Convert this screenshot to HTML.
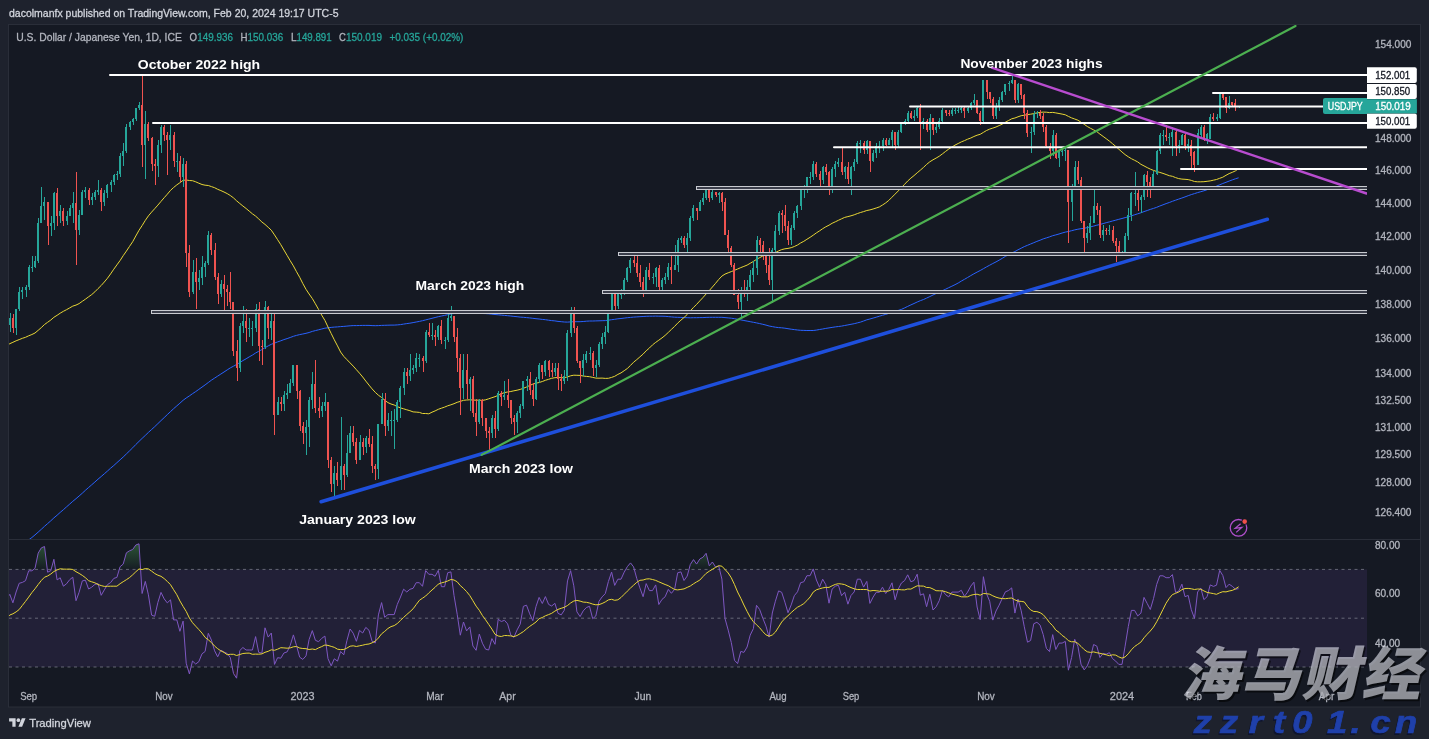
<!DOCTYPE html>
<html><head><meta charset="utf-8"><style>
html,body{margin:0;padding:0;}
body{width:1429px;height:739px;overflow:hidden;background:#1e222d;position:relative;}
</style></head><body>
<svg width="1429" height="739" viewBox="0 0 1429 739" style="position:absolute;left:0;top:0;will-change:transform" font-family='"Liberation Sans","DejaVu Sans",sans-serif'><defs><clipPath id="cm"><rect x="9" y="25" width="1358" height="514"/></clipPath><clipPath id="cr"><rect x="9" y="540" width="1358" height="143"/></clipPath></defs><rect x="0" y="0" width="1429" height="739" fill="#1e222d"/><rect x="8.5" y="24.5" width="1412" height="682.5" fill="#151923" stroke="#2a2e39" stroke-width="1"/><text x="9" y="17" font-size="11" fill="#d1d4dc" font-weight="normal" stroke="#d1d4dc" stroke-width="0.3" textLength="329.5" lengthAdjust="spacingAndGlyphs">dacolmanfx published on TradingView.com, Feb 20, 2024 19:17 UTC-5</text><rect x="9" y="539" width="1411" height="1" fill="#2a2e39"/><g clip-path="url(#cm)"><polyline points="6.6,555.5 9.8,553.3 12.9,551.3 16.1,549.2 19.2,546.9 22.4,544.6 25.5,542.3 28.7,539.9 31.9,537.5 35.0,534.9 38.2,532.1 41.3,529.3 44.5,526.3 47.6,523.6 50.8,520.8 53.9,517.9 57.1,515.2 60.2,512.4 63.4,509.7 66.5,506.9 69.7,504.1 72.8,501.3 76.0,498.7 79.1,496.0 82.3,493.2 85.4,490.3 88.6,487.5 91.7,484.8 94.9,482.0 98.0,479.2 101.2,476.5 104.3,473.8 107.5,471.0 110.6,468.2 113.8,465.5 116.9,462.7 120.1,459.8 123.2,457.0 126.4,453.9 129.5,450.9 132.7,447.8 135.8,444.5 139.0,441.4 142.1,438.4 145.3,435.4 148.4,432.4 151.6,429.5 154.7,426.7 157.9,423.6 161.0,420.6 164.2,417.6 167.3,414.6 170.5,411.6 173.6,408.7 176.8,405.9 179.9,403.2 183.1,400.3 186.2,398.0 189.4,395.9 192.5,393.7 195.7,391.6 198.8,389.4 202.0,387.1 205.1,384.9 208.3,382.5 211.4,380.2 214.6,378.1 217.7,376.1 220.9,374.0 224.0,372.0 227.2,369.9 230.3,367.9 233.5,366.2 236.6,364.5 239.8,362.6 242.9,360.6 246.1,358.8 249.2,356.9 252.4,355.1 255.6,353.0 258.7,351.3 261.9,349.6 265.0,347.7 268.2,345.9 271.3,344.3 274.5,343.1 277.6,341.9 280.8,340.8 283.9,339.6 287.1,338.6 290.2,337.5 293.4,336.3 296.5,335.4 299.7,334.6 302.8,334.0 306.0,333.3 309.1,332.5 312.3,331.4 315.4,330.6 318.6,329.8 321.7,329.0 324.9,328.2 328.0,327.8 331.2,327.4 334.3,327.1 337.5,326.9 340.6,326.6 343.8,326.4 346.9,326.1 350.1,325.8 353.2,325.6 356.4,325.6 359.5,325.5 362.7,325.4 365.8,325.4 369.0,325.4 372.1,325.6 375.3,325.7 378.4,325.6 381.6,325.4 384.7,325.3 387.9,325.2 391.0,325.1 394.2,325.1 397.3,324.9 400.5,324.6 403.6,324.1 406.8,323.6 409.9,323.2 413.1,322.6 416.2,322.0 419.4,321.4 422.5,320.7 425.7,319.9 428.8,319.1 432.0,318.3 435.1,317.5 438.3,316.7 441.4,316.0 444.6,315.4 447.7,314.7 450.9,314.0 454.0,313.5 457.2,313.2 460.3,313.1 463.5,313.1 466.6,313.1 469.8,313.1 472.9,313.2 476.1,313.4 479.3,313.4 482.4,313.5 485.6,313.6 488.7,313.8 491.9,314.2 495.0,314.5 498.2,314.8 501.3,315.1 504.5,315.4 507.6,315.7 510.8,316.0 513.9,316.4 517.1,316.7 520.2,317.1 523.4,317.3 526.5,317.6 529.7,317.9 532.8,318.3 536.0,318.7 539.1,319.0 542.3,319.4 545.4,319.7 548.6,320.2 551.7,320.6 554.9,320.9 558.0,321.4 561.2,321.7 564.3,322.0 567.5,322.1 570.6,321.9 573.8,321.7 576.9,321.7 580.1,321.7 583.2,321.5 586.4,321.2 589.5,321.0 592.7,321.0 595.8,320.9 599.0,320.8 602.1,320.7 605.3,320.6 608.4,320.2 611.6,319.7 614.7,319.3 617.9,318.8 621.0,318.5 624.2,318.1 627.3,317.7 630.5,317.4 633.6,317.1 636.8,316.9 639.9,316.7 643.1,316.5 646.2,316.3 649.4,316.2 652.5,316.2 655.7,316.1 658.8,316.2 662.0,316.2 665.1,316.3 668.3,316.6 671.4,316.9 674.6,317.2 677.7,317.3 680.9,317.4 684.0,317.6 687.2,317.7 690.3,317.8 693.5,317.7 696.6,317.7 699.8,317.6 702.9,317.6 706.1,317.4 709.3,317.3 712.4,317.3 715.6,317.3 718.7,317.3 721.9,317.3 725.0,317.6 728.2,317.9 731.3,318.2 734.5,318.7 737.6,319.3 740.8,319.9 743.9,320.5 747.1,321.1 750.2,321.7 753.4,322.3 756.5,322.9 759.7,323.6 762.8,324.3 766.0,325.1 769.1,326.0 772.3,326.6 775.4,327.2 778.6,327.6 781.7,327.8 784.9,328.2 788.0,328.7 791.2,329.2 794.3,329.6 797.5,330.0 800.6,330.3 803.8,330.4 806.9,330.5 810.1,330.5 813.2,330.5 816.4,330.1 819.5,329.5 822.7,329.0 825.8,328.4 829.0,327.9 832.1,327.4 835.3,326.9 838.4,326.5 841.6,326.1 844.7,325.5 847.9,324.9 851.0,324.3 854.2,323.7 857.3,322.9 860.5,322.1 863.6,321.0 866.8,319.8 869.9,319.0 873.1,318.1 876.2,317.2 879.4,316.2 882.5,315.3 885.7,314.4 888.8,313.4 892.0,312.2 895.1,311.4 898.3,310.4 901.4,309.4 904.6,307.9 907.7,306.4 910.9,304.9 914.0,303.5 917.2,302.0 920.3,300.7 923.5,299.5 926.6,298.1 929.8,296.6 933.0,295.0 936.1,293.5 939.3,292.1 942.4,290.7 945.6,289.2 948.7,287.7 951.9,286.2 955.0,284.7 958.2,283.0 961.3,281.1 964.5,279.3 967.6,277.5 970.8,275.6 973.9,273.8 977.1,272.1 980.2,270.5 983.4,268.7 986.5,266.9 989.7,265.2 992.8,263.5 996.0,261.9 999.1,260.2 1002.3,258.3 1005.4,256.4 1008.6,254.7 1011.7,253.1 1014.9,251.5 1018.0,249.8 1021.2,248.2 1024.3,246.6 1027.5,245.3 1030.6,244.0 1033.8,242.7 1036.9,241.4 1040.1,240.2 1043.2,238.9 1046.4,237.9 1049.5,236.9 1052.7,235.7 1055.8,234.9 1059.0,234.0 1062.1,233.0 1065.3,232.1 1068.4,231.5 1071.6,230.7 1074.7,229.9 1077.9,229.2 1081.0,228.7 1084.2,228.3 1087.3,227.6 1090.5,226.9 1093.6,226.1 1096.8,225.2 1099.9,224.5 1103.1,223.6 1106.2,222.7 1109.4,221.9 1112.5,221.0 1115.7,220.2 1118.8,219.3 1122.0,218.5 1125.1,217.6 1128.3,216.8 1131.4,215.8 1134.6,214.8 1137.7,213.8 1140.9,212.8 1144.0,211.6 1147.2,210.5 1150.3,209.4 1153.5,208.4 1156.7,207.3 1159.8,206.0 1163.0,204.8 1166.1,203.6 1169.3,202.5 1172.4,201.3 1175.6,200.2 1178.7,199.1 1181.9,198.0 1185.0,196.9 1188.2,195.7 1191.3,194.6 1194.5,193.6 1197.6,192.6 1200.8,191.7 1203.9,190.8 1207.1,189.7 1210.2,188.5 1213.4,187.3 1216.5,186.1 1219.7,184.8 1222.8,183.5 1226.0,182.3 1229.1,181.1 1232.3,179.9 1235.4,178.8 1238.6,177.8" fill="none" stroke="#2962ff" stroke-width="1" stroke-opacity="1" stroke-linejoin="round"/><polyline points="6.6,345.4 9.8,343.7 12.9,342.3 16.1,340.8 19.2,339.6 22.4,338.3 25.5,337.3 28.7,335.8 31.9,334.5 35.0,333.0 38.2,330.3 41.3,327.6 44.5,324.5 47.6,322.3 50.8,320.0 53.9,317.3 57.1,315.3 60.2,313.2 63.4,311.3 66.5,309.7 69.7,307.9 72.8,306.1 76.0,305.1 79.1,303.6 82.3,301.3 85.4,299.2 88.6,296.8 91.7,294.6 94.9,291.8 98.0,288.6 101.2,285.5 104.3,282.0 107.5,278.2 110.6,273.9 113.8,269.2 116.9,264.9 120.1,260.5 123.2,255.7 126.4,251.1 129.5,246.4 132.7,241.7 135.8,236.0 139.0,230.3 142.1,225.6 145.3,220.4 148.4,215.9 151.6,212.1 154.7,208.7 157.9,205.1 161.0,201.4 164.2,197.7 167.3,194.2 170.5,190.4 173.6,187.5 176.8,184.9 179.9,182.7 183.1,180.3 186.2,180.0 189.4,180.5 192.5,180.7 195.7,181.8 198.8,183.2 202.0,184.5 205.1,185.2 208.3,185.5 211.4,186.6 214.6,187.7 217.7,189.3 220.9,190.6 224.0,192.0 227.2,193.6 230.3,195.5 233.5,197.9 236.6,200.8 239.8,203.5 242.9,206.0 246.1,208.5 249.2,211.1 252.4,213.8 255.6,216.1 258.7,218.9 261.9,222.0 265.0,224.4 268.2,227.3 271.3,230.2 274.5,234.9 277.6,239.7 280.8,244.7 283.9,250.0 287.1,255.4 290.2,260.7 293.4,265.9 296.5,271.7 299.7,277.3 302.8,283.5 306.0,289.3 309.1,294.0 312.3,298.5 315.4,303.8 318.6,309.5 321.7,315.1 324.9,320.4 328.0,327.0 331.2,333.5 334.3,339.8 337.5,345.9 340.6,352.0 343.8,356.4 346.9,359.6 350.1,362.9 353.2,366.1 356.4,369.7 359.5,373.2 362.7,377.0 365.8,381.1 369.0,385.1 372.1,388.9 375.3,392.4 378.4,395.2 381.6,397.5 384.7,400.2 387.9,402.6 391.0,404.0 394.2,405.0 397.3,406.6 400.5,407.9 403.6,408.8 406.8,409.8 409.9,410.7 413.1,411.9 416.2,412.1 419.4,412.4 422.5,413.5 425.7,413.5 428.8,413.8 432.0,412.2 435.1,410.9 438.3,409.3 441.4,408.2 444.6,407.1 447.7,405.8 450.9,404.8 454.0,403.7 457.2,402.3 460.3,401.4 463.5,400.3 466.6,400.0 469.8,399.8 472.9,400.0 476.1,400.2 479.3,400.1 482.4,400.4 485.6,399.8 488.7,398.8 491.9,397.7 495.0,396.7 498.2,395.3 501.3,393.8 504.5,392.6 507.6,392.0 510.8,391.5 513.9,390.8 517.1,390.2 520.2,389.4 523.4,388.3 526.5,387.0 529.7,385.5 532.8,384.1 536.0,383.2 539.1,382.5 542.3,381.5 545.4,380.3 548.6,379.3 551.7,378.3 554.9,377.7 558.0,377.5 561.2,377.7 564.3,377.7 567.5,376.9 570.6,375.8 573.8,375.2 576.9,375.3 580.1,375.4 583.2,376.0 586.4,376.4 589.5,376.7 592.7,377.4 595.8,378.1 599.0,378.2 602.1,378.1 605.3,378.4 608.4,378.3 611.6,377.4 614.7,376.3 617.9,374.4 621.0,372.9 624.2,370.7 627.3,368.5 630.5,365.4 633.6,362.2 636.8,359.6 639.9,356.9 643.1,354.1 646.2,350.8 649.4,348.0 652.5,344.9 655.7,342.4 658.8,340.2 662.0,337.9 665.1,335.4 668.3,332.4 671.4,329.4 674.6,326.4 677.7,323.1 680.9,320.2 684.0,317.5 687.2,314.5 690.3,310.9 693.5,307.4 696.6,304.4 699.8,300.9 702.9,297.6 706.1,294.0 709.3,290.5 712.4,287.0 715.6,283.3 718.7,279.5 721.9,276.1 725.0,274.1 728.2,272.8 731.3,271.6 734.5,270.3 737.6,269.0 740.8,267.6 743.9,266.4 747.1,265.1 750.2,263.3 753.4,261.4 756.5,259.4 759.7,257.6 762.8,256.0 766.0,255.1 769.1,254.9 772.3,253.8 775.4,252.5 778.6,250.9 781.7,249.6 784.9,248.8 788.0,248.4 791.2,247.7 794.3,246.5 797.5,245.0 800.6,243.0 803.8,241.3 806.9,239.3 810.1,237.3 813.2,235.2 816.4,232.9 819.5,230.9 822.7,228.7 825.8,226.8 829.0,225.2 832.1,223.3 835.3,221.8 838.4,220.3 841.6,218.8 844.7,217.4 847.9,216.6 851.0,215.8 854.2,214.8 857.3,213.6 860.5,212.5 863.6,211.6 866.8,210.5 869.9,209.9 873.1,209.0 876.2,208.0 879.4,206.9 882.5,205.0 885.7,202.9 888.8,200.4 892.0,197.2 895.1,194.1 898.3,190.9 901.4,187.6 904.6,184.3 907.7,181.0 910.9,178.1 914.0,175.6 917.2,172.8 920.3,170.2 923.5,167.4 926.6,164.4 929.8,161.8 933.0,159.8 936.1,158.1 939.3,156.2 942.4,153.9 945.6,151.4 948.7,149.1 951.9,147.1 955.0,145.1 958.2,143.5 961.3,141.9 964.5,140.6 967.6,139.2 970.8,138.0 973.9,136.5 977.1,135.2 980.2,134.3 983.4,132.4 986.5,130.5 989.7,129.1 992.8,128.1 996.0,127.0 999.1,125.6 1002.3,124.1 1005.4,122.2 1008.6,120.5 1011.7,118.8 1014.9,118.0 1018.0,116.8 1021.2,115.7 1024.3,115.2 1027.5,114.6 1030.6,114.2 1033.8,113.6 1036.9,112.9 1040.1,112.4 1043.2,112.1 1046.4,112.2 1049.5,112.6 1052.7,112.4 1055.8,112.9 1059.0,113.5 1062.1,114.1 1065.3,114.8 1068.4,116.4 1071.6,117.9 1074.7,119.0 1077.9,120.2 1081.0,122.2 1084.2,124.3 1087.3,126.5 1090.5,128.3 1093.6,129.9 1096.8,131.6 1099.9,134.1 1103.1,136.4 1106.2,138.7 1109.4,141.1 1112.5,143.7 1115.7,146.4 1118.8,149.2 1122.0,152.0 1125.1,154.6 1128.3,156.8 1131.4,158.7 1134.6,160.3 1137.7,161.9 1140.9,164.3 1144.0,165.9 1147.2,167.6 1150.3,169.1 1153.5,170.4 1156.7,171.5 1159.8,172.4 1163.0,173.4 1166.1,174.5 1169.3,175.7 1172.4,176.3 1175.6,177.6 1178.7,178.6 1181.9,179.1 1185.0,179.3 1188.2,179.6 1191.3,180.4 1194.5,181.5 1197.6,181.8 1200.8,181.8 1203.9,181.7 1207.1,181.3 1210.2,180.9 1213.4,180.2 1216.5,179.5 1219.7,178.3 1222.8,177.2 1226.0,175.3 1229.1,173.6 1232.3,172.3 1235.4,170.9 1238.6,168.5" fill="none" stroke="#e8d635" stroke-width="1" stroke-opacity="1" stroke-linejoin="round"/><g shape-rendering="crispEdges"><rect x="10" y="313" width="1" height="19" fill="#26a69a"/><rect x="9" y="318" width="2" height="7" fill="#26a69a"/><rect x="13" y="314" width="1" height="19" fill="#ef5350"/><rect x="12" y="318" width="2" height="10" fill="#ef5350"/><rect x="16" y="309" width="1" height="26" fill="#26a69a"/><rect x="15" y="309" width="2" height="19" fill="#26a69a"/><rect x="19" y="287" width="1" height="24" fill="#26a69a"/><rect x="18" y="292" width="2" height="17" fill="#26a69a"/><rect x="22" y="287" width="1" height="12" fill="#26a69a"/><rect x="21" y="290" width="2" height="2" fill="#26a69a"/><rect x="26" y="285" width="1" height="12" fill="#26a69a"/><rect x="25" y="287" width="2" height="3" fill="#26a69a"/><rect x="29" y="265" width="1" height="25" fill="#26a69a"/><rect x="28" y="267" width="2" height="20" fill="#26a69a"/><rect x="32" y="256" width="1" height="16" fill="#26a69a"/><rect x="31" y="267" width="2" height="1" fill="#26a69a"/><rect x="35" y="256" width="1" height="12" fill="#26a69a"/><rect x="34" y="261" width="2" height="6" fill="#26a69a"/><rect x="38" y="218" width="1" height="45" fill="#26a69a"/><rect x="37" y="223" width="2" height="38" fill="#26a69a"/><rect x="41" y="187" width="1" height="36" fill="#26a69a"/><rect x="40" y="206" width="2" height="17" fill="#26a69a"/><rect x="44" y="197" width="1" height="23" fill="#26a69a"/><rect x="43" y="202" width="2" height="4" fill="#26a69a"/><rect x="48" y="202" width="1" height="43" fill="#ef5350"/><rect x="47" y="202" width="2" height="24" fill="#ef5350"/><rect x="51" y="216" width="1" height="20" fill="#26a69a"/><rect x="50" y="223" width="2" height="3" fill="#26a69a"/><rect x="54" y="192" width="1" height="38" fill="#26a69a"/><rect x="53" y="193" width="2" height="30" fill="#26a69a"/><rect x="57" y="188" width="1" height="38" fill="#ef5350"/><rect x="56" y="193" width="2" height="23" fill="#ef5350"/><rect x="60" y="205" width="1" height="18" fill="#26a69a"/><rect x="59" y="211" width="2" height="5" fill="#26a69a"/><rect x="63" y="208" width="1" height="18" fill="#ef5350"/><rect x="62" y="211" width="2" height="10" fill="#ef5350"/><rect x="67" y="211" width="1" height="14" fill="#26a69a"/><rect x="66" y="216" width="2" height="5" fill="#26a69a"/><rect x="70" y="205" width="1" height="11" fill="#26a69a"/><rect x="69" y="208" width="2" height="8" fill="#26a69a"/><rect x="73" y="192" width="1" height="31" fill="#26a69a"/><rect x="72" y="203" width="2" height="5" fill="#26a69a"/><rect x="76" y="172" width="1" height="93" fill="#ef5350"/><rect x="75" y="203" width="2" height="27" fill="#ef5350"/><rect x="79" y="210" width="1" height="25" fill="#26a69a"/><rect x="78" y="215" width="2" height="15" fill="#26a69a"/><rect x="82" y="190" width="1" height="25" fill="#26a69a"/><rect x="81" y="192" width="2" height="23" fill="#26a69a"/><rect x="85" y="187" width="1" height="11" fill="#26a69a"/><rect x="84" y="190" width="2" height="2" fill="#26a69a"/><rect x="89" y="188" width="1" height="17" fill="#ef5350"/><rect x="88" y="190" width="2" height="10" fill="#ef5350"/><rect x="92" y="193" width="1" height="12" fill="#26a69a"/><rect x="91" y="197" width="2" height="3" fill="#26a69a"/><rect x="95" y="190" width="1" height="10" fill="#26a69a"/><rect x="94" y="192" width="2" height="5" fill="#26a69a"/><rect x="98" y="180" width="1" height="15" fill="#26a69a"/><rect x="97" y="190" width="2" height="2" fill="#26a69a"/><rect x="101" y="188" width="1" height="23" fill="#ef5350"/><rect x="100" y="190" width="2" height="12" fill="#ef5350"/><rect x="104" y="190" width="1" height="16" fill="#26a69a"/><rect x="103" y="193" width="2" height="9" fill="#26a69a"/><rect x="107" y="184" width="1" height="14" fill="#26a69a"/><rect x="106" y="185" width="2" height="8" fill="#26a69a"/><rect x="111" y="180" width="1" height="12" fill="#26a69a"/><rect x="110" y="182" width="2" height="3" fill="#26a69a"/><rect x="114" y="174" width="1" height="11" fill="#26a69a"/><rect x="113" y="175" width="2" height="7" fill="#26a69a"/><rect x="117" y="171" width="1" height="9" fill="#26a69a"/><rect x="116" y="174" width="2" height="1" fill="#26a69a"/><rect x="120" y="153" width="1" height="24" fill="#26a69a"/><rect x="119" y="156" width="2" height="18" fill="#26a69a"/><rect x="123" y="143" width="1" height="23" fill="#26a69a"/><rect x="122" y="151" width="2" height="5" fill="#26a69a"/><rect x="126" y="124" width="1" height="29" fill="#26a69a"/><rect x="125" y="127" width="2" height="24" fill="#26a69a"/><rect x="130" y="121" width="1" height="9" fill="#26a69a"/><rect x="129" y="122" width="2" height="5" fill="#26a69a"/><rect x="133" y="118" width="1" height="7" fill="#26a69a"/><rect x="132" y="119" width="2" height="3" fill="#26a69a"/><rect x="136" y="108" width="1" height="13" fill="#26a69a"/><rect x="135" y="108" width="2" height="11" fill="#26a69a"/><rect x="139" y="102" width="1" height="8" fill="#26a69a"/><rect x="138" y="105" width="2" height="3" fill="#26a69a"/><rect x="142" y="76" width="1" height="91" fill="#ef5350"/><rect x="141" y="105" width="2" height="40" fill="#ef5350"/><rect x="145" y="111" width="1" height="68" fill="#26a69a"/><rect x="144" y="124" width="2" height="21" fill="#26a69a"/><rect x="148" y="122" width="1" height="19" fill="#ef5350"/><rect x="147" y="124" width="2" height="14" fill="#ef5350"/><rect x="152" y="137" width="1" height="34" fill="#ef5350"/><rect x="151" y="138" width="2" height="26" fill="#ef5350"/><rect x="155" y="159" width="1" height="26" fill="#ef5350"/><rect x="154" y="164" width="2" height="2" fill="#ef5350"/><rect x="158" y="140" width="1" height="37" fill="#26a69a"/><rect x="157" y="145" width="2" height="21" fill="#26a69a"/><rect x="161" y="125" width="1" height="28" fill="#26a69a"/><rect x="160" y="127" width="2" height="18" fill="#26a69a"/><rect x="164" y="125" width="1" height="16" fill="#ef5350"/><rect x="163" y="127" width="2" height="8" fill="#ef5350"/><rect x="167" y="132" width="1" height="43" fill="#ef5350"/><rect x="166" y="135" width="2" height="5" fill="#ef5350"/><rect x="170" y="125" width="1" height="25" fill="#26a69a"/><rect x="169" y="135" width="2" height="5" fill="#26a69a"/><rect x="174" y="132" width="1" height="35" fill="#ef5350"/><rect x="173" y="135" width="2" height="26" fill="#ef5350"/><rect x="177" y="153" width="1" height="19" fill="#26a69a"/><rect x="176" y="161" width="2" height="1" fill="#26a69a"/><rect x="180" y="156" width="1" height="26" fill="#ef5350"/><rect x="179" y="161" width="2" height="16" fill="#ef5350"/><rect x="183" y="158" width="1" height="29" fill="#26a69a"/><rect x="182" y="164" width="2" height="13" fill="#26a69a"/><rect x="186" y="161" width="1" height="106" fill="#ef5350"/><rect x="185" y="164" width="2" height="89" fill="#ef5350"/><rect x="189" y="245" width="1" height="52" fill="#ef5350"/><rect x="188" y="253" width="2" height="39" fill="#ef5350"/><rect x="193" y="260" width="1" height="34" fill="#26a69a"/><rect x="192" y="272" width="2" height="20" fill="#26a69a"/><rect x="196" y="258" width="1" height="51" fill="#ef5350"/><rect x="195" y="272" width="2" height="10" fill="#ef5350"/><rect x="199" y="270" width="1" height="20" fill="#26a69a"/><rect x="198" y="278" width="2" height="4" fill="#26a69a"/><rect x="202" y="256" width="1" height="29" fill="#26a69a"/><rect x="201" y="267" width="2" height="11" fill="#26a69a"/><rect x="205" y="261" width="1" height="16" fill="#26a69a"/><rect x="204" y="263" width="2" height="4" fill="#26a69a"/><rect x="208" y="231" width="1" height="34" fill="#26a69a"/><rect x="207" y="235" width="2" height="28" fill="#26a69a"/><rect x="211" y="233" width="1" height="22" fill="#ef5350"/><rect x="210" y="235" width="2" height="15" fill="#ef5350"/><rect x="215" y="243" width="1" height="37" fill="#ef5350"/><rect x="214" y="250" width="2" height="27" fill="#ef5350"/><rect x="218" y="273" width="1" height="31" fill="#ef5350"/><rect x="217" y="277" width="2" height="17" fill="#ef5350"/><rect x="221" y="280" width="1" height="17" fill="#26a69a"/><rect x="220" y="284" width="2" height="10" fill="#26a69a"/><rect x="224" y="275" width="1" height="38" fill="#ef5350"/><rect x="223" y="284" width="2" height="5" fill="#ef5350"/><rect x="227" y="285" width="1" height="21" fill="#ef5350"/><rect x="226" y="289" width="2" height="3" fill="#ef5350"/><rect x="230" y="272" width="1" height="37" fill="#ef5350"/><rect x="229" y="292" width="2" height="10" fill="#ef5350"/><rect x="233" y="302" width="1" height="54" fill="#ef5350"/><rect x="232" y="302" width="2" height="49" fill="#ef5350"/><rect x="237" y="340" width="1" height="41" fill="#ef5350"/><rect x="236" y="351" width="2" height="17" fill="#ef5350"/><rect x="240" y="323" width="1" height="49" fill="#26a69a"/><rect x="239" y="326" width="2" height="42" fill="#26a69a"/><rect x="243" y="306" width="1" height="27" fill="#26a69a"/><rect x="242" y="321" width="2" height="5" fill="#26a69a"/><rect x="246" y="309" width="1" height="33" fill="#ef5350"/><rect x="245" y="321" width="2" height="7" fill="#ef5350"/><rect x="249" y="318" width="1" height="19" fill="#26a69a"/><rect x="248" y="328" width="2" height="1" fill="#26a69a"/><rect x="252" y="321" width="1" height="25" fill="#26a69a"/><rect x="251" y="328" width="2" height="1" fill="#26a69a"/><rect x="256" y="304" width="1" height="28" fill="#26a69a"/><rect x="255" y="309" width="2" height="19" fill="#26a69a"/><rect x="259" y="302" width="1" height="59" fill="#ef5350"/><rect x="258" y="309" width="2" height="37" fill="#ef5350"/><rect x="262" y="340" width="1" height="25" fill="#ef5350"/><rect x="261" y="346" width="2" height="1" fill="#ef5350"/><rect x="265" y="301" width="1" height="48" fill="#26a69a"/><rect x="264" y="307" width="2" height="40" fill="#26a69a"/><rect x="268" y="306" width="1" height="33" fill="#ef5350"/><rect x="267" y="307" width="2" height="21" fill="#ef5350"/><rect x="271" y="314" width="1" height="26" fill="#26a69a"/><rect x="270" y="321" width="2" height="7" fill="#26a69a"/><rect x="274" y="313" width="1" height="122" fill="#ef5350"/><rect x="273" y="321" width="2" height="94" fill="#ef5350"/><rect x="278" y="397" width="1" height="18" fill="#26a69a"/><rect x="277" y="402" width="2" height="13" fill="#26a69a"/><rect x="281" y="397" width="1" height="14" fill="#ef5350"/><rect x="280" y="402" width="2" height="2" fill="#ef5350"/><rect x="284" y="391" width="1" height="20" fill="#26a69a"/><rect x="283" y="395" width="2" height="9" fill="#26a69a"/><rect x="287" y="384" width="1" height="15" fill="#26a69a"/><rect x="286" y="393" width="2" height="2" fill="#26a69a"/><rect x="290" y="379" width="1" height="14" fill="#26a69a"/><rect x="289" y="383" width="2" height="10" fill="#26a69a"/><rect x="293" y="365" width="1" height="21" fill="#26a69a"/><rect x="292" y="365" width="2" height="18" fill="#26a69a"/><rect x="297" y="365" width="1" height="34" fill="#ef5350"/><rect x="296" y="365" width="2" height="26" fill="#ef5350"/><rect x="300" y="390" width="1" height="41" fill="#ef5350"/><rect x="299" y="391" width="2" height="35" fill="#ef5350"/><rect x="303" y="422" width="1" height="22" fill="#ef5350"/><rect x="302" y="426" width="2" height="7" fill="#ef5350"/><rect x="306" y="420" width="1" height="35" fill="#26a69a"/><rect x="305" y="427" width="2" height="6" fill="#26a69a"/><rect x="309" y="397" width="1" height="50" fill="#26a69a"/><rect x="308" y="400" width="2" height="27" fill="#26a69a"/><rect x="312" y="372" width="1" height="37" fill="#26a69a"/><rect x="311" y="384" width="2" height="16" fill="#26a69a"/><rect x="315" y="360" width="1" height="53" fill="#ef5350"/><rect x="314" y="384" width="2" height="24" fill="#ef5350"/><rect x="319" y="397" width="1" height="21" fill="#ef5350"/><rect x="318" y="408" width="2" height="3" fill="#ef5350"/><rect x="322" y="402" width="1" height="15" fill="#26a69a"/><rect x="321" y="406" width="2" height="5" fill="#26a69a"/><rect x="325" y="393" width="1" height="18" fill="#26a69a"/><rect x="324" y="402" width="2" height="4" fill="#26a69a"/><rect x="328" y="402" width="1" height="66" fill="#ef5350"/><rect x="327" y="402" width="2" height="58" fill="#ef5350"/><rect x="331" y="457" width="1" height="35" fill="#ef5350"/><rect x="330" y="460" width="2" height="24" fill="#ef5350"/><rect x="334" y="466" width="1" height="31" fill="#26a69a"/><rect x="333" y="473" width="2" height="11" fill="#26a69a"/><rect x="337" y="462" width="1" height="24" fill="#ef5350"/><rect x="336" y="473" width="2" height="7" fill="#ef5350"/><rect x="341" y="417" width="1" height="73" fill="#26a69a"/><rect x="340" y="466" width="2" height="14" fill="#26a69a"/><rect x="344" y="464" width="1" height="26" fill="#ef5350"/><rect x="343" y="466" width="2" height="9" fill="#ef5350"/><rect x="347" y="435" width="1" height="42" fill="#26a69a"/><rect x="346" y="453" width="2" height="22" fill="#26a69a"/><rect x="350" y="426" width="1" height="27" fill="#26a69a"/><rect x="349" y="433" width="2" height="20" fill="#26a69a"/><rect x="353" y="426" width="1" height="20" fill="#ef5350"/><rect x="352" y="433" width="2" height="9" fill="#ef5350"/><rect x="356" y="438" width="1" height="26" fill="#ef5350"/><rect x="355" y="442" width="2" height="18" fill="#ef5350"/><rect x="360" y="435" width="1" height="25" fill="#26a69a"/><rect x="359" y="442" width="2" height="18" fill="#26a69a"/><rect x="363" y="438" width="1" height="17" fill="#ef5350"/><rect x="362" y="442" width="2" height="5" fill="#ef5350"/><rect x="366" y="436" width="1" height="17" fill="#26a69a"/><rect x="365" y="438" width="2" height="9" fill="#26a69a"/><rect x="369" y="429" width="1" height="18" fill="#ef5350"/><rect x="368" y="438" width="2" height="6" fill="#ef5350"/><rect x="372" y="436" width="1" height="37" fill="#ef5350"/><rect x="371" y="444" width="2" height="22" fill="#ef5350"/><rect x="375" y="464" width="1" height="16" fill="#ef5350"/><rect x="374" y="466" width="2" height="3" fill="#ef5350"/><rect x="378" y="424" width="1" height="55" fill="#26a69a"/><rect x="377" y="424" width="2" height="45" fill="#26a69a"/><rect x="382" y="393" width="1" height="31" fill="#26a69a"/><rect x="381" y="399" width="2" height="25" fill="#26a69a"/><rect x="385" y="393" width="1" height="43" fill="#ef5350"/><rect x="384" y="399" width="2" height="27" fill="#ef5350"/><rect x="388" y="413" width="1" height="18" fill="#26a69a"/><rect x="387" y="420" width="2" height="6" fill="#26a69a"/><rect x="391" y="411" width="1" height="25" fill="#26a69a"/><rect x="390" y="420" width="2" height="1" fill="#26a69a"/><rect x="394" y="409" width="1" height="40" fill="#26a69a"/><rect x="393" y="420" width="2" height="1" fill="#26a69a"/><rect x="397" y="400" width="1" height="22" fill="#26a69a"/><rect x="396" y="402" width="2" height="18" fill="#26a69a"/><rect x="400" y="386" width="1" height="32" fill="#26a69a"/><rect x="399" y="388" width="2" height="14" fill="#26a69a"/><rect x="404" y="368" width="1" height="27" fill="#26a69a"/><rect x="403" y="372" width="2" height="16" fill="#26a69a"/><rect x="407" y="368" width="1" height="16" fill="#ef5350"/><rect x="406" y="372" width="2" height="4" fill="#ef5350"/><rect x="410" y="354" width="1" height="27" fill="#26a69a"/><rect x="409" y="370" width="2" height="6" fill="#26a69a"/><rect x="413" y="365" width="1" height="9" fill="#26a69a"/><rect x="412" y="368" width="2" height="2" fill="#26a69a"/><rect x="416" y="353" width="1" height="19" fill="#26a69a"/><rect x="415" y="358" width="2" height="10" fill="#26a69a"/><rect x="419" y="354" width="1" height="13" fill="#26a69a"/><rect x="418" y="358" width="2" height="1" fill="#26a69a"/><rect x="423" y="356" width="1" height="16" fill="#ef5350"/><rect x="422" y="358" width="2" height="3" fill="#ef5350"/><rect x="426" y="330" width="1" height="33" fill="#26a69a"/><rect x="425" y="332" width="2" height="29" fill="#26a69a"/><rect x="429" y="323" width="1" height="14" fill="#ef5350"/><rect x="428" y="332" width="2" height="3" fill="#ef5350"/><rect x="432" y="323" width="1" height="17" fill="#26a69a"/><rect x="431" y="335" width="2" height="1" fill="#26a69a"/><rect x="435" y="330" width="1" height="16" fill="#ef5350"/><rect x="434" y="335" width="2" height="2" fill="#ef5350"/><rect x="438" y="325" width="1" height="15" fill="#26a69a"/><rect x="437" y="326" width="2" height="11" fill="#26a69a"/><rect x="441" y="320" width="1" height="24" fill="#ef5350"/><rect x="440" y="326" width="2" height="14" fill="#ef5350"/><rect x="445" y="337" width="1" height="12" fill="#26a69a"/><rect x="444" y="340" width="2" height="1" fill="#26a69a"/><rect x="448" y="314" width="1" height="28" fill="#26a69a"/><rect x="447" y="318" width="2" height="22" fill="#26a69a"/><rect x="451" y="306" width="1" height="15" fill="#26a69a"/><rect x="450" y="316" width="2" height="2" fill="#26a69a"/><rect x="454" y="316" width="1" height="26" fill="#ef5350"/><rect x="453" y="316" width="2" height="21" fill="#ef5350"/><rect x="457" y="328" width="1" height="44" fill="#ef5350"/><rect x="456" y="337" width="2" height="21" fill="#ef5350"/><rect x="460" y="354" width="1" height="61" fill="#ef5350"/><rect x="459" y="358" width="2" height="30" fill="#ef5350"/><rect x="463" y="354" width="1" height="45" fill="#26a69a"/><rect x="462" y="370" width="2" height="18" fill="#26a69a"/><rect x="467" y="354" width="1" height="45" fill="#ef5350"/><rect x="466" y="370" width="2" height="14" fill="#ef5350"/><rect x="470" y="377" width="1" height="34" fill="#26a69a"/><rect x="469" y="379" width="2" height="5" fill="#26a69a"/><rect x="473" y="376" width="1" height="41" fill="#ef5350"/><rect x="472" y="379" width="2" height="34" fill="#ef5350"/><rect x="476" y="399" width="1" height="37" fill="#ef5350"/><rect x="475" y="413" width="2" height="9" fill="#ef5350"/><rect x="479" y="399" width="1" height="25" fill="#26a69a"/><rect x="478" y="400" width="2" height="22" fill="#26a69a"/><rect x="482" y="399" width="1" height="27" fill="#ef5350"/><rect x="481" y="400" width="2" height="18" fill="#ef5350"/><rect x="486" y="418" width="1" height="20" fill="#ef5350"/><rect x="485" y="418" width="2" height="13" fill="#ef5350"/><rect x="489" y="427" width="1" height="25" fill="#ef5350"/><rect x="488" y="431" width="2" height="2" fill="#ef5350"/><rect x="492" y="415" width="1" height="23" fill="#26a69a"/><rect x="491" y="418" width="2" height="15" fill="#26a69a"/><rect x="495" y="411" width="1" height="27" fill="#ef5350"/><rect x="494" y="418" width="2" height="11" fill="#ef5350"/><rect x="498" y="391" width="1" height="40" fill="#26a69a"/><rect x="497" y="393" width="2" height="36" fill="#26a69a"/><rect x="501" y="391" width="1" height="15" fill="#ef5350"/><rect x="500" y="393" width="2" height="4" fill="#ef5350"/><rect x="504" y="381" width="1" height="19" fill="#26a69a"/><rect x="503" y="395" width="2" height="2" fill="#26a69a"/><rect x="508" y="379" width="1" height="29" fill="#ef5350"/><rect x="507" y="395" width="2" height="5" fill="#ef5350"/><rect x="511" y="400" width="1" height="24" fill="#ef5350"/><rect x="510" y="400" width="2" height="18" fill="#ef5350"/><rect x="514" y="415" width="1" height="20" fill="#ef5350"/><rect x="513" y="418" width="2" height="4" fill="#ef5350"/><rect x="517" y="411" width="1" height="22" fill="#26a69a"/><rect x="516" y="413" width="2" height="9" fill="#26a69a"/><rect x="520" y="404" width="1" height="14" fill="#26a69a"/><rect x="519" y="406" width="2" height="7" fill="#26a69a"/><rect x="523" y="381" width="1" height="28" fill="#26a69a"/><rect x="522" y="381" width="2" height="25" fill="#26a69a"/><rect x="527" y="376" width="1" height="15" fill="#26a69a"/><rect x="526" y="379" width="2" height="2" fill="#26a69a"/><rect x="530" y="372" width="1" height="23" fill="#ef5350"/><rect x="529" y="379" width="2" height="11" fill="#ef5350"/><rect x="533" y="383" width="1" height="23" fill="#ef5350"/><rect x="532" y="390" width="2" height="9" fill="#ef5350"/><rect x="536" y="377" width="1" height="23" fill="#26a69a"/><rect x="535" y="379" width="2" height="20" fill="#26a69a"/><rect x="539" y="363" width="1" height="20" fill="#26a69a"/><rect x="538" y="365" width="2" height="14" fill="#26a69a"/><rect x="542" y="365" width="1" height="14" fill="#ef5350"/><rect x="541" y="365" width="2" height="7" fill="#ef5350"/><rect x="545" y="360" width="1" height="16" fill="#26a69a"/><rect x="544" y="361" width="2" height="11" fill="#26a69a"/><rect x="549" y="360" width="1" height="17" fill="#ef5350"/><rect x="548" y="361" width="2" height="9" fill="#ef5350"/><rect x="552" y="363" width="1" height="14" fill="#ef5350"/><rect x="551" y="370" width="2" height="2" fill="#ef5350"/><rect x="555" y="363" width="1" height="13" fill="#26a69a"/><rect x="554" y="368" width="2" height="4" fill="#26a69a"/><rect x="558" y="363" width="1" height="27" fill="#ef5350"/><rect x="557" y="368" width="2" height="11" fill="#ef5350"/><rect x="561" y="374" width="1" height="17" fill="#ef5350"/><rect x="560" y="379" width="2" height="2" fill="#ef5350"/><rect x="564" y="370" width="1" height="14" fill="#26a69a"/><rect x="563" y="376" width="2" height="5" fill="#26a69a"/><rect x="567" y="330" width="1" height="51" fill="#26a69a"/><rect x="566" y="333" width="2" height="43" fill="#26a69a"/><rect x="571" y="307" width="1" height="30" fill="#26a69a"/><rect x="570" y="313" width="2" height="20" fill="#26a69a"/><rect x="574" y="307" width="1" height="26" fill="#ef5350"/><rect x="573" y="313" width="2" height="15" fill="#ef5350"/><rect x="577" y="326" width="1" height="37" fill="#ef5350"/><rect x="576" y="328" width="2" height="33" fill="#ef5350"/><rect x="580" y="361" width="1" height="22" fill="#ef5350"/><rect x="579" y="361" width="2" height="7" fill="#ef5350"/><rect x="583" y="354" width="1" height="22" fill="#26a69a"/><rect x="582" y="360" width="2" height="8" fill="#26a69a"/><rect x="586" y="351" width="1" height="12" fill="#26a69a"/><rect x="585" y="354" width="2" height="6" fill="#26a69a"/><rect x="590" y="347" width="1" height="13" fill="#26a69a"/><rect x="589" y="353" width="2" height="1" fill="#26a69a"/><rect x="593" y="351" width="1" height="25" fill="#ef5350"/><rect x="592" y="353" width="2" height="15" fill="#ef5350"/><rect x="596" y="360" width="1" height="17" fill="#26a69a"/><rect x="595" y="365" width="2" height="3" fill="#26a69a"/><rect x="599" y="342" width="1" height="25" fill="#26a69a"/><rect x="598" y="344" width="2" height="21" fill="#26a69a"/><rect x="602" y="333" width="1" height="16" fill="#26a69a"/><rect x="601" y="337" width="2" height="7" fill="#26a69a"/><rect x="605" y="326" width="1" height="18" fill="#26a69a"/><rect x="604" y="332" width="2" height="5" fill="#26a69a"/><rect x="608" y="311" width="1" height="22" fill="#26a69a"/><rect x="607" y="311" width="2" height="21" fill="#26a69a"/><rect x="612" y="290" width="1" height="23" fill="#26a69a"/><rect x="611" y="292" width="2" height="19" fill="#26a69a"/><rect x="615" y="292" width="1" height="22" fill="#ef5350"/><rect x="614" y="292" width="2" height="14" fill="#ef5350"/><rect x="618" y="292" width="1" height="17" fill="#26a69a"/><rect x="617" y="294" width="2" height="12" fill="#26a69a"/><rect x="621" y="289" width="1" height="10" fill="#26a69a"/><rect x="620" y="294" width="2" height="1" fill="#26a69a"/><rect x="624" y="278" width="1" height="17" fill="#26a69a"/><rect x="623" y="280" width="2" height="14" fill="#26a69a"/><rect x="627" y="267" width="1" height="15" fill="#26a69a"/><rect x="626" y="268" width="2" height="12" fill="#26a69a"/><rect x="630" y="258" width="1" height="15" fill="#26a69a"/><rect x="629" y="260" width="2" height="8" fill="#26a69a"/><rect x="634" y="255" width="1" height="12" fill="#ef5350"/><rect x="633" y="260" width="2" height="3" fill="#ef5350"/><rect x="637" y="255" width="1" height="22" fill="#ef5350"/><rect x="636" y="263" width="2" height="10" fill="#ef5350"/><rect x="640" y="265" width="1" height="22" fill="#ef5350"/><rect x="639" y="273" width="2" height="9" fill="#ef5350"/><rect x="643" y="277" width="1" height="20" fill="#ef5350"/><rect x="642" y="282" width="2" height="8" fill="#ef5350"/><rect x="646" y="267" width="1" height="27" fill="#26a69a"/><rect x="645" y="270" width="2" height="20" fill="#26a69a"/><rect x="649" y="263" width="1" height="17" fill="#ef5350"/><rect x="648" y="270" width="2" height="7" fill="#ef5350"/><rect x="653" y="273" width="1" height="11" fill="#26a69a"/><rect x="652" y="277" width="2" height="1" fill="#26a69a"/><rect x="656" y="267" width="1" height="20" fill="#26a69a"/><rect x="655" y="268" width="2" height="9" fill="#26a69a"/><rect x="659" y="265" width="1" height="25" fill="#ef5350"/><rect x="658" y="268" width="2" height="19" fill="#ef5350"/><rect x="662" y="278" width="1" height="12" fill="#26a69a"/><rect x="661" y="280" width="2" height="7" fill="#26a69a"/><rect x="665" y="273" width="1" height="11" fill="#26a69a"/><rect x="664" y="277" width="2" height="3" fill="#26a69a"/><rect x="668" y="263" width="1" height="17" fill="#26a69a"/><rect x="667" y="267" width="2" height="10" fill="#26a69a"/><rect x="671" y="256" width="1" height="28" fill="#ef5350"/><rect x="670" y="267" width="2" height="3" fill="#ef5350"/><rect x="675" y="245" width="1" height="25" fill="#26a69a"/><rect x="674" y="265" width="2" height="5" fill="#26a69a"/><rect x="678" y="238" width="1" height="34" fill="#26a69a"/><rect x="677" y="240" width="2" height="25" fill="#26a69a"/><rect x="681" y="236" width="1" height="7" fill="#26a69a"/><rect x="680" y="238" width="2" height="2" fill="#26a69a"/><rect x="684" y="236" width="1" height="12" fill="#ef5350"/><rect x="683" y="238" width="2" height="7" fill="#ef5350"/><rect x="687" y="233" width="1" height="20" fill="#26a69a"/><rect x="686" y="238" width="2" height="7" fill="#26a69a"/><rect x="690" y="216" width="1" height="25" fill="#26a69a"/><rect x="689" y="218" width="2" height="20" fill="#26a69a"/><rect x="693" y="205" width="1" height="16" fill="#26a69a"/><rect x="692" y="208" width="2" height="10" fill="#26a69a"/><rect x="697" y="208" width="1" height="12" fill="#ef5350"/><rect x="696" y="208" width="2" height="3" fill="#ef5350"/><rect x="700" y="200" width="1" height="11" fill="#26a69a"/><rect x="699" y="202" width="2" height="9" fill="#26a69a"/><rect x="703" y="193" width="1" height="12" fill="#26a69a"/><rect x="702" y="198" width="2" height="4" fill="#26a69a"/><rect x="706" y="187" width="1" height="13" fill="#26a69a"/><rect x="705" y="190" width="2" height="8" fill="#26a69a"/><rect x="709" y="186" width="1" height="16" fill="#ef5350"/><rect x="708" y="190" width="2" height="8" fill="#ef5350"/><rect x="712" y="188" width="1" height="12" fill="#26a69a"/><rect x="711" y="192" width="2" height="6" fill="#26a69a"/><rect x="716" y="192" width="1" height="5" fill="#ef5350"/><rect x="715" y="192" width="2" height="3" fill="#ef5350"/><rect x="719" y="192" width="1" height="11" fill="#26a69a"/><rect x="718" y="193" width="2" height="2" fill="#26a69a"/><rect x="722" y="192" width="1" height="19" fill="#ef5350"/><rect x="721" y="193" width="2" height="9" fill="#ef5350"/><rect x="725" y="198" width="1" height="37" fill="#ef5350"/><rect x="724" y="202" width="2" height="33" fill="#ef5350"/><rect x="728" y="230" width="1" height="25" fill="#ef5350"/><rect x="727" y="235" width="2" height="13" fill="#ef5350"/><rect x="731" y="246" width="1" height="21" fill="#ef5350"/><rect x="730" y="248" width="2" height="17" fill="#ef5350"/><rect x="734" y="263" width="1" height="32" fill="#ef5350"/><rect x="733" y="265" width="2" height="30" fill="#ef5350"/><rect x="738" y="289" width="1" height="20" fill="#ef5350"/><rect x="737" y="295" width="2" height="7" fill="#ef5350"/><rect x="741" y="287" width="1" height="30" fill="#26a69a"/><rect x="740" y="290" width="2" height="12" fill="#26a69a"/><rect x="744" y="280" width="1" height="17" fill="#ef5350"/><rect x="743" y="290" width="2" height="2" fill="#ef5350"/><rect x="747" y="280" width="1" height="21" fill="#26a69a"/><rect x="746" y="287" width="2" height="5" fill="#26a69a"/><rect x="750" y="270" width="1" height="20" fill="#26a69a"/><rect x="749" y="275" width="2" height="12" fill="#26a69a"/><rect x="753" y="261" width="1" height="21" fill="#26a69a"/><rect x="752" y="268" width="2" height="7" fill="#26a69a"/><rect x="757" y="236" width="1" height="39" fill="#26a69a"/><rect x="756" y="240" width="2" height="28" fill="#26a69a"/><rect x="760" y="238" width="1" height="15" fill="#ef5350"/><rect x="759" y="240" width="2" height="5" fill="#ef5350"/><rect x="763" y="241" width="1" height="19" fill="#ef5350"/><rect x="762" y="245" width="2" height="10" fill="#ef5350"/><rect x="766" y="253" width="1" height="20" fill="#ef5350"/><rect x="765" y="255" width="2" height="10" fill="#ef5350"/><rect x="769" y="248" width="1" height="37" fill="#ef5350"/><rect x="768" y="265" width="2" height="15" fill="#ef5350"/><rect x="772" y="248" width="1" height="55" fill="#26a69a"/><rect x="771" y="250" width="2" height="30" fill="#26a69a"/><rect x="775" y="225" width="1" height="31" fill="#26a69a"/><rect x="774" y="231" width="2" height="19" fill="#26a69a"/><rect x="779" y="211" width="1" height="24" fill="#26a69a"/><rect x="778" y="213" width="2" height="18" fill="#26a69a"/><rect x="782" y="210" width="1" height="23" fill="#ef5350"/><rect x="781" y="213" width="2" height="2" fill="#ef5350"/><rect x="785" y="205" width="1" height="26" fill="#ef5350"/><rect x="784" y="215" width="2" height="11" fill="#ef5350"/><rect x="788" y="221" width="1" height="24" fill="#ef5350"/><rect x="787" y="226" width="2" height="14" fill="#ef5350"/><rect x="791" y="225" width="1" height="20" fill="#26a69a"/><rect x="790" y="228" width="2" height="12" fill="#26a69a"/><rect x="794" y="211" width="1" height="19" fill="#26a69a"/><rect x="793" y="213" width="2" height="15" fill="#26a69a"/><rect x="797" y="205" width="1" height="13" fill="#26a69a"/><rect x="796" y="206" width="2" height="7" fill="#26a69a"/><rect x="801" y="188" width="1" height="22" fill="#26a69a"/><rect x="800" y="190" width="2" height="16" fill="#26a69a"/><rect x="804" y="185" width="1" height="13" fill="#26a69a"/><rect x="803" y="188" width="2" height="2" fill="#26a69a"/><rect x="807" y="177" width="1" height="16" fill="#26a69a"/><rect x="806" y="177" width="2" height="11" fill="#26a69a"/><rect x="810" y="172" width="1" height="12" fill="#26a69a"/><rect x="809" y="177" width="2" height="1" fill="#26a69a"/><rect x="813" y="161" width="1" height="19" fill="#26a69a"/><rect x="812" y="164" width="2" height="13" fill="#26a69a"/><rect x="816" y="162" width="1" height="15" fill="#ef5350"/><rect x="815" y="164" width="2" height="10" fill="#ef5350"/><rect x="820" y="171" width="1" height="17" fill="#ef5350"/><rect x="819" y="174" width="2" height="6" fill="#ef5350"/><rect x="823" y="166" width="1" height="18" fill="#26a69a"/><rect x="822" y="167" width="2" height="13" fill="#26a69a"/><rect x="826" y="164" width="1" height="11" fill="#ef5350"/><rect x="825" y="167" width="2" height="5" fill="#ef5350"/><rect x="829" y="171" width="1" height="24" fill="#ef5350"/><rect x="828" y="172" width="2" height="18" fill="#ef5350"/><rect x="832" y="167" width="1" height="26" fill="#26a69a"/><rect x="831" y="169" width="2" height="21" fill="#26a69a"/><rect x="835" y="161" width="1" height="16" fill="#26a69a"/><rect x="834" y="164" width="2" height="5" fill="#26a69a"/><rect x="838" y="158" width="1" height="9" fill="#26a69a"/><rect x="837" y="162" width="2" height="2" fill="#26a69a"/><rect x="842" y="148" width="1" height="27" fill="#ef5350"/><rect x="841" y="162" width="2" height="10" fill="#ef5350"/><rect x="845" y="166" width="1" height="13" fill="#26a69a"/><rect x="844" y="167" width="2" height="5" fill="#26a69a"/><rect x="848" y="162" width="1" height="22" fill="#ef5350"/><rect x="847" y="167" width="2" height="12" fill="#ef5350"/><rect x="851" y="166" width="1" height="29" fill="#26a69a"/><rect x="850" y="167" width="2" height="12" fill="#26a69a"/><rect x="854" y="159" width="1" height="12" fill="#26a69a"/><rect x="853" y="162" width="2" height="5" fill="#26a69a"/><rect x="857" y="141" width="1" height="23" fill="#26a69a"/><rect x="856" y="143" width="2" height="19" fill="#26a69a"/><rect x="860" y="140" width="1" height="13" fill="#26a69a"/><rect x="859" y="143" width="2" height="1" fill="#26a69a"/><rect x="864" y="141" width="1" height="13" fill="#ef5350"/><rect x="863" y="143" width="2" height="7" fill="#ef5350"/><rect x="867" y="140" width="1" height="14" fill="#26a69a"/><rect x="866" y="141" width="2" height="9" fill="#26a69a"/><rect x="870" y="141" width="1" height="31" fill="#ef5350"/><rect x="869" y="141" width="2" height="20" fill="#ef5350"/><rect x="873" y="150" width="1" height="12" fill="#26a69a"/><rect x="872" y="153" width="2" height="8" fill="#26a69a"/><rect x="876" y="143" width="1" height="15" fill="#26a69a"/><rect x="875" y="146" width="2" height="7" fill="#26a69a"/><rect x="879" y="141" width="1" height="12" fill="#26a69a"/><rect x="878" y="146" width="2" height="1" fill="#26a69a"/><rect x="883" y="138" width="1" height="13" fill="#26a69a"/><rect x="882" y="140" width="2" height="6" fill="#26a69a"/><rect x="886" y="138" width="1" height="8" fill="#ef5350"/><rect x="885" y="140" width="2" height="5" fill="#ef5350"/><rect x="889" y="138" width="1" height="7" fill="#26a69a"/><rect x="888" y="140" width="2" height="5" fill="#26a69a"/><rect x="892" y="130" width="1" height="18" fill="#26a69a"/><rect x="891" y="132" width="2" height="8" fill="#26a69a"/><rect x="895" y="132" width="1" height="18" fill="#ef5350"/><rect x="894" y="132" width="2" height="13" fill="#ef5350"/><rect x="898" y="130" width="1" height="18" fill="#26a69a"/><rect x="897" y="132" width="2" height="13" fill="#26a69a"/><rect x="901" y="122" width="1" height="11" fill="#26a69a"/><rect x="900" y="124" width="2" height="8" fill="#26a69a"/><rect x="905" y="119" width="1" height="6" fill="#26a69a"/><rect x="904" y="121" width="2" height="3" fill="#26a69a"/><rect x="908" y="111" width="1" height="11" fill="#26a69a"/><rect x="907" y="113" width="2" height="8" fill="#26a69a"/><rect x="911" y="111" width="1" height="8" fill="#ef5350"/><rect x="910" y="113" width="2" height="5" fill="#ef5350"/><rect x="914" y="110" width="1" height="11" fill="#26a69a"/><rect x="913" y="116" width="2" height="2" fill="#26a69a"/><rect x="917" y="106" width="1" height="12" fill="#26a69a"/><rect x="916" y="108" width="2" height="8" fill="#26a69a"/><rect x="920" y="104" width="1" height="46" fill="#ef5350"/><rect x="919" y="108" width="2" height="14" fill="#ef5350"/><rect x="923" y="118" width="1" height="11" fill="#26a69a"/><rect x="922" y="121" width="2" height="1" fill="#26a69a"/><rect x="927" y="119" width="1" height="13" fill="#ef5350"/><rect x="926" y="121" width="2" height="9" fill="#ef5350"/><rect x="930" y="114" width="1" height="36" fill="#26a69a"/><rect x="929" y="118" width="2" height="12" fill="#26a69a"/><rect x="933" y="118" width="1" height="17" fill="#ef5350"/><rect x="932" y="118" width="2" height="12" fill="#ef5350"/><rect x="936" y="124" width="1" height="9" fill="#26a69a"/><rect x="935" y="127" width="2" height="3" fill="#26a69a"/><rect x="939" y="118" width="1" height="11" fill="#26a69a"/><rect x="938" y="121" width="2" height="6" fill="#26a69a"/><rect x="942" y="108" width="1" height="14" fill="#26a69a"/><rect x="941" y="110" width="2" height="11" fill="#26a69a"/><rect x="946" y="110" width="1" height="6" fill="#ef5350"/><rect x="945" y="110" width="2" height="3" fill="#ef5350"/><rect x="949" y="110" width="1" height="6" fill="#ef5350"/><rect x="948" y="113" width="2" height="1" fill="#ef5350"/><rect x="952" y="108" width="1" height="8" fill="#26a69a"/><rect x="951" y="110" width="2" height="4" fill="#26a69a"/><rect x="955" y="108" width="1" height="6" fill="#26a69a"/><rect x="954" y="110" width="2" height="1" fill="#26a69a"/><rect x="958" y="106" width="1" height="7" fill="#26a69a"/><rect x="957" y="110" width="2" height="1" fill="#26a69a"/><rect x="961" y="106" width="1" height="7" fill="#26a69a"/><rect x="960" y="108" width="2" height="2" fill="#26a69a"/><rect x="964" y="106" width="1" height="12" fill="#ef5350"/><rect x="963" y="108" width="2" height="3" fill="#ef5350"/><rect x="968" y="106" width="1" height="7" fill="#26a69a"/><rect x="967" y="108" width="2" height="3" fill="#26a69a"/><rect x="971" y="102" width="1" height="8" fill="#26a69a"/><rect x="970" y="103" width="2" height="5" fill="#26a69a"/><rect x="974" y="94" width="1" height="11" fill="#26a69a"/><rect x="973" y="100" width="2" height="3" fill="#26a69a"/><rect x="977" y="100" width="1" height="14" fill="#ef5350"/><rect x="976" y="100" width="2" height="13" fill="#ef5350"/><rect x="980" y="111" width="1" height="14" fill="#ef5350"/><rect x="979" y="113" width="2" height="8" fill="#ef5350"/><rect x="983" y="80" width="1" height="42" fill="#26a69a"/><rect x="982" y="80" width="2" height="41" fill="#26a69a"/><rect x="987" y="80" width="1" height="19" fill="#ef5350"/><rect x="986" y="80" width="2" height="12" fill="#ef5350"/><rect x="990" y="92" width="1" height="11" fill="#ef5350"/><rect x="989" y="92" width="2" height="7" fill="#ef5350"/><rect x="993" y="97" width="1" height="22" fill="#ef5350"/><rect x="992" y="99" width="2" height="17" fill="#ef5350"/><rect x="996" y="103" width="1" height="16" fill="#26a69a"/><rect x="995" y="106" width="2" height="10" fill="#26a69a"/><rect x="999" y="97" width="1" height="14" fill="#26a69a"/><rect x="998" y="100" width="2" height="6" fill="#26a69a"/><rect x="1002" y="91" width="1" height="11" fill="#26a69a"/><rect x="1001" y="92" width="2" height="8" fill="#26a69a"/><rect x="1005" y="84" width="1" height="11" fill="#26a69a"/><rect x="1004" y="84" width="2" height="8" fill="#26a69a"/><rect x="1009" y="81" width="1" height="10" fill="#26a69a"/><rect x="1008" y="83" width="2" height="1" fill="#26a69a"/><rect x="1012" y="76" width="1" height="8" fill="#26a69a"/><rect x="1011" y="80" width="2" height="3" fill="#26a69a"/><rect x="1015" y="80" width="1" height="23" fill="#ef5350"/><rect x="1014" y="80" width="2" height="20" fill="#ef5350"/><rect x="1018" y="83" width="1" height="20" fill="#26a69a"/><rect x="1017" y="84" width="2" height="16" fill="#26a69a"/><rect x="1021" y="84" width="1" height="15" fill="#ef5350"/><rect x="1020" y="84" width="2" height="11" fill="#ef5350"/><rect x="1024" y="94" width="1" height="25" fill="#ef5350"/><rect x="1023" y="95" width="2" height="18" fill="#ef5350"/><rect x="1027" y="110" width="1" height="27" fill="#ef5350"/><rect x="1026" y="113" width="2" height="20" fill="#ef5350"/><rect x="1031" y="127" width="1" height="26" fill="#26a69a"/><rect x="1030" y="132" width="2" height="1" fill="#26a69a"/><rect x="1034" y="111" width="1" height="24" fill="#26a69a"/><rect x="1033" y="114" width="2" height="18" fill="#26a69a"/><rect x="1037" y="111" width="1" height="7" fill="#26a69a"/><rect x="1036" y="113" width="2" height="1" fill="#26a69a"/><rect x="1040" y="110" width="1" height="9" fill="#ef5350"/><rect x="1039" y="113" width="2" height="3" fill="#ef5350"/><rect x="1043" y="113" width="1" height="19" fill="#ef5350"/><rect x="1042" y="116" width="2" height="11" fill="#ef5350"/><rect x="1046" y="125" width="1" height="23" fill="#ef5350"/><rect x="1045" y="127" width="2" height="19" fill="#ef5350"/><rect x="1050" y="143" width="1" height="16" fill="#ef5350"/><rect x="1049" y="146" width="2" height="5" fill="#ef5350"/><rect x="1053" y="130" width="1" height="26" fill="#26a69a"/><rect x="1052" y="135" width="2" height="16" fill="#26a69a"/><rect x="1056" y="133" width="1" height="26" fill="#ef5350"/><rect x="1055" y="135" width="2" height="23" fill="#ef5350"/><rect x="1059" y="150" width="1" height="17" fill="#26a69a"/><rect x="1058" y="151" width="2" height="7" fill="#26a69a"/><rect x="1062" y="148" width="1" height="8" fill="#26a69a"/><rect x="1061" y="151" width="2" height="1" fill="#26a69a"/><rect x="1065" y="146" width="1" height="15" fill="#26a69a"/><rect x="1064" y="150" width="2" height="1" fill="#26a69a"/><rect x="1068" y="150" width="1" height="93" fill="#ef5350"/><rect x="1067" y="150" width="2" height="52" fill="#ef5350"/><rect x="1072" y="184" width="1" height="37" fill="#26a69a"/><rect x="1071" y="188" width="2" height="14" fill="#26a69a"/><rect x="1075" y="161" width="1" height="27" fill="#26a69a"/><rect x="1074" y="167" width="2" height="21" fill="#26a69a"/><rect x="1078" y="161" width="1" height="23" fill="#ef5350"/><rect x="1077" y="167" width="2" height="13" fill="#ef5350"/><rect x="1081" y="177" width="1" height="46" fill="#ef5350"/><rect x="1080" y="180" width="2" height="41" fill="#ef5350"/><rect x="1084" y="221" width="1" height="33" fill="#ef5350"/><rect x="1083" y="221" width="2" height="17" fill="#ef5350"/><rect x="1087" y="226" width="1" height="17" fill="#26a69a"/><rect x="1086" y="233" width="2" height="5" fill="#26a69a"/><rect x="1090" y="216" width="1" height="24" fill="#26a69a"/><rect x="1089" y="223" width="2" height="10" fill="#26a69a"/><rect x="1094" y="188" width="1" height="35" fill="#26a69a"/><rect x="1093" y="206" width="2" height="17" fill="#26a69a"/><rect x="1097" y="203" width="1" height="12" fill="#ef5350"/><rect x="1096" y="206" width="2" height="4" fill="#ef5350"/><rect x="1100" y="206" width="1" height="32" fill="#ef5350"/><rect x="1099" y="210" width="2" height="25" fill="#ef5350"/><rect x="1103" y="225" width="1" height="16" fill="#26a69a"/><rect x="1102" y="230" width="2" height="5" fill="#26a69a"/><rect x="1106" y="228" width="1" height="7" fill="#ef5350"/><rect x="1105" y="230" width="2" height="1" fill="#ef5350"/><rect x="1109" y="225" width="1" height="10" fill="#26a69a"/><rect x="1108" y="230" width="2" height="1" fill="#26a69a"/><rect x="1113" y="226" width="1" height="17" fill="#ef5350"/><rect x="1112" y="230" width="2" height="11" fill="#ef5350"/><rect x="1116" y="238" width="1" height="24" fill="#ef5350"/><rect x="1115" y="241" width="2" height="5" fill="#ef5350"/><rect x="1119" y="241" width="1" height="14" fill="#ef5350"/><rect x="1118" y="246" width="2" height="7" fill="#ef5350"/><rect x="1122" y="251" width="1" height="5" fill="#26a69a"/><rect x="1121" y="253" width="2" height="1" fill="#26a69a"/><rect x="1125" y="233" width="1" height="23" fill="#26a69a"/><rect x="1124" y="236" width="2" height="17" fill="#26a69a"/><rect x="1128" y="208" width="1" height="32" fill="#26a69a"/><rect x="1127" y="215" width="2" height="21" fill="#26a69a"/><rect x="1131" y="192" width="1" height="29" fill="#26a69a"/><rect x="1130" y="193" width="2" height="22" fill="#26a69a"/><rect x="1135" y="172" width="1" height="34" fill="#26a69a"/><rect x="1134" y="193" width="2" height="1" fill="#26a69a"/><rect x="1138" y="190" width="1" height="21" fill="#ef5350"/><rect x="1137" y="193" width="2" height="7" fill="#ef5350"/><rect x="1141" y="195" width="1" height="18" fill="#26a69a"/><rect x="1140" y="197" width="2" height="3" fill="#26a69a"/><rect x="1144" y="174" width="1" height="26" fill="#26a69a"/><rect x="1143" y="175" width="2" height="22" fill="#26a69a"/><rect x="1147" y="171" width="1" height="26" fill="#ef5350"/><rect x="1146" y="175" width="2" height="7" fill="#ef5350"/><rect x="1150" y="177" width="1" height="21" fill="#ef5350"/><rect x="1149" y="182" width="2" height="6" fill="#ef5350"/><rect x="1153" y="171" width="1" height="17" fill="#26a69a"/><rect x="1152" y="174" width="2" height="14" fill="#26a69a"/><rect x="1157" y="150" width="1" height="25" fill="#26a69a"/><rect x="1156" y="151" width="2" height="23" fill="#26a69a"/><rect x="1160" y="133" width="1" height="21" fill="#26a69a"/><rect x="1159" y="135" width="2" height="16" fill="#26a69a"/><rect x="1163" y="130" width="1" height="15" fill="#26a69a"/><rect x="1162" y="135" width="2" height="1" fill="#26a69a"/><rect x="1166" y="125" width="1" height="16" fill="#ef5350"/><rect x="1165" y="135" width="2" height="2" fill="#ef5350"/><rect x="1169" y="133" width="1" height="12" fill="#26a69a"/><rect x="1168" y="137" width="2" height="1" fill="#26a69a"/><rect x="1172" y="127" width="1" height="29" fill="#26a69a"/><rect x="1171" y="132" width="2" height="5" fill="#26a69a"/><rect x="1176" y="129" width="1" height="27" fill="#ef5350"/><rect x="1175" y="132" width="2" height="14" fill="#ef5350"/><rect x="1179" y="140" width="1" height="13" fill="#26a69a"/><rect x="1178" y="145" width="2" height="1" fill="#26a69a"/><rect x="1182" y="134" width="1" height="11" fill="#26a69a"/><rect x="1181" y="135" width="2" height="10" fill="#26a69a"/><rect x="1185" y="134" width="1" height="16" fill="#ef5350"/><rect x="1184" y="135" width="2" height="11" fill="#ef5350"/><rect x="1188" y="139" width="1" height="13" fill="#26a69a"/><rect x="1187" y="144" width="2" height="2" fill="#26a69a"/><rect x="1191" y="140" width="1" height="28" fill="#ef5350"/><rect x="1190" y="145" width="2" height="11" fill="#ef5350"/><rect x="1194" y="151" width="1" height="21" fill="#ef5350"/><rect x="1193" y="152" width="2" height="13" fill="#ef5350"/><rect x="1198" y="129" width="1" height="36" fill="#26a69a"/><rect x="1197" y="133" width="2" height="32" fill="#26a69a"/><rect x="1201" y="125" width="1" height="12" fill="#26a69a"/><rect x="1200" y="127" width="2" height="8" fill="#26a69a"/><rect x="1204" y="125" width="1" height="16" fill="#ef5350"/><rect x="1203" y="127" width="2" height="11" fill="#ef5350"/><rect x="1207" y="133" width="1" height="11" fill="#26a69a"/><rect x="1206" y="134" width="2" height="5" fill="#26a69a"/><rect x="1210" y="114" width="1" height="25" fill="#26a69a"/><rect x="1209" y="117" width="2" height="22" fill="#26a69a"/><rect x="1213" y="113" width="1" height="8" fill="#ef5350"/><rect x="1212" y="117" width="2" height="2" fill="#ef5350"/><rect x="1217" y="114" width="1" height="7" fill="#26a69a"/><rect x="1216" y="117" width="2" height="2" fill="#26a69a"/><rect x="1220" y="92" width="1" height="27" fill="#26a69a"/><rect x="1219" y="94" width="2" height="24" fill="#26a69a"/><rect x="1223" y="94" width="1" height="6" fill="#ef5350"/><rect x="1222" y="94" width="2" height="4" fill="#ef5350"/><rect x="1226" y="97" width="1" height="16" fill="#ef5350"/><rect x="1225" y="97" width="2" height="11" fill="#ef5350"/><rect x="1229" y="96" width="1" height="13" fill="#26a69a"/><rect x="1228" y="103" width="2" height="5" fill="#26a69a"/><rect x="1232" y="102" width="1" height="5" fill="#ef5350"/><rect x="1231" y="102" width="2" height="3" fill="#ef5350"/><rect x="1235" y="99" width="1" height="12" fill="#ef5350"/><rect x="1234" y="103" width="2" height="4" fill="#ef5350"/><rect x="1239" y="106" width="1" height="2" fill="#26a69a"/><rect x="1238" y="106" width="2" height="1" fill="#26a69a"/></g><rect x="696.5" y="186.5" width="671" height="3" fill="#3a3d4a" stroke="#c8cad0" stroke-width="1"/><rect x="618.5" y="252.5" width="749" height="3" fill="#3a3d4a" stroke="#c8cad0" stroke-width="1"/><rect x="602.5" y="290.5" width="765" height="3" fill="#3a3d4a" stroke="#c8cad0" stroke-width="1"/><rect x="151.5" y="310.5" width="1216" height="3" fill="#3a3d4a" stroke="#c8cad0" stroke-width="1"/><line x1="110" x2="1367" y1="74.9" y2="74.9" stroke="#ffffff" stroke-width="2" stroke-linecap="round"/><line x1="153" x2="1367" y1="122.9" y2="122.9" stroke="#ffffff" stroke-width="2" stroke-linecap="round"/><line x1="910" x2="1323" y1="106.6" y2="106.6" stroke="#ffffff" stroke-width="2" stroke-linecap="round"/><line x1="1213" x2="1367" y1="92.9" y2="92.9" stroke="#ffffff" stroke-width="2" stroke-linecap="round"/><line x1="834" x2="1367" y1="147.2" y2="147.2" stroke="#ffffff" stroke-width="2" stroke-linecap="round"/><line x1="1181" x2="1367" y1="169.0" y2="169.0" stroke="#ffffff" stroke-width="2" stroke-linecap="round"/><line x1="321.1" y1="501.7" x2="1267.4" y2="219.2" stroke="#1e4fdc" stroke-width="3.5" stroke-linecap="round"/><line x1="481.6" y1="454.9" x2="1295.5" y2="26" stroke="#4caf50" stroke-width="2.2" stroke-linecap="round"/><line x1="991.7" y1="67.7" x2="1366.6" y2="193.5" stroke="#b84ccf" stroke-width="2.4" stroke-linecap="round"/></g><g font-weight="bold" fill="#ffffff"><text x="137.8" y="69.1" font-size="13.5" fill="#fff" font-weight="bold" textLength="122.4" lengthAdjust="spacingAndGlyphs">October 2022 high</text><text x="960.4" y="68.0" font-size="13.5" fill="#fff" font-weight="bold" textLength="142.3" lengthAdjust="spacingAndGlyphs">November 2023 highs</text><text x="415.5" y="289.6" font-size="13.5" fill="#fff" font-weight="bold" textLength="108.7" lengthAdjust="spacingAndGlyphs">March 2023 high</text><text x="469.1" y="472.9" font-size="13.5" fill="#fff" font-weight="bold" textLength="103.8" lengthAdjust="spacingAndGlyphs">March 2023 low</text><text x="299.2" y="523.9" font-size="13.5" fill="#fff" font-weight="bold" textLength="116.6" lengthAdjust="spacingAndGlyphs">January 2023 low</text></g><text x="16.2" y="41.2" font-size="11" fill="#b2b5be" font-weight="normal" stroke="#b2b5be" stroke-width="0.3" textLength="165.7" lengthAdjust="spacingAndGlyphs">U.S. Dollar / Japanese Yen, 1D, ICE</text><text x="189.4" y="41.2" font-size="11" fill="#b2b5be" font-weight="normal" stroke="#b2b5be" stroke-width="0.3" textLength="7.5" lengthAdjust="spacingAndGlyphs">O</text><text x="197.2" y="41.2" font-size="11" fill="#26a69a" font-weight="normal" stroke="#26a69a" stroke-width="0.3" textLength="35.7" lengthAdjust="spacingAndGlyphs">149.936</text><text x="240.5" y="41.2" font-size="11" fill="#b2b5be" font-weight="normal" stroke="#b2b5be" stroke-width="0.3" textLength="7" lengthAdjust="spacingAndGlyphs">H</text><text x="247.6" y="41.2" font-size="11" fill="#26a69a" font-weight="normal" stroke="#26a69a" stroke-width="0.3" textLength="35.7" lengthAdjust="spacingAndGlyphs">150.036</text><text x="290.9" y="41.2" font-size="11" fill="#b2b5be" font-weight="normal" stroke="#b2b5be" stroke-width="0.3" textLength="5.6" lengthAdjust="spacingAndGlyphs">L</text><text x="296.5" y="41.2" font-size="11" fill="#26a69a" font-weight="normal" stroke="#26a69a" stroke-width="0.3" textLength="35.1" lengthAdjust="spacingAndGlyphs">149.891</text><text x="339.1" y="41.2" font-size="11" fill="#b2b5be" font-weight="normal" stroke="#b2b5be" stroke-width="0.3" textLength="6.8" lengthAdjust="spacingAndGlyphs">C</text><text x="345.9" y="41.2" font-size="11" fill="#26a69a" font-weight="normal" stroke="#26a69a" stroke-width="0.3" textLength="36.1" lengthAdjust="spacingAndGlyphs">150.019</text><text x="389.5" y="41.2" font-size="11" fill="#26a69a" font-weight="normal" stroke="#26a69a" stroke-width="0.3" textLength="73.9" lengthAdjust="spacingAndGlyphs">+0.035 (+0.02%)</text><text x="1375" y="47.7" font-size="10.2" fill="#b2b5be" font-weight="normal" stroke="#b2b5be" stroke-width="0.3" textLength="36.4" lengthAdjust="spacingAndGlyphs">154.000</text><text x="1375" y="141.9" font-size="10.2" fill="#b2b5be" font-weight="normal" stroke="#b2b5be" stroke-width="0.3" textLength="36.4" lengthAdjust="spacingAndGlyphs">148.000</text><text x="1375" y="174.1" font-size="10.2" fill="#b2b5be" font-weight="normal" stroke="#b2b5be" stroke-width="0.3" textLength="36.4" lengthAdjust="spacingAndGlyphs">146.000</text><text x="1375" y="206.8" font-size="10.2" fill="#b2b5be" font-weight="normal" stroke="#b2b5be" stroke-width="0.3" textLength="36.4" lengthAdjust="spacingAndGlyphs">144.000</text><text x="1375" y="239.9" font-size="10.2" fill="#b2b5be" font-weight="normal" stroke="#b2b5be" stroke-width="0.3" textLength="36.4" lengthAdjust="spacingAndGlyphs">142.000</text><text x="1375" y="273.5" font-size="10.2" fill="#b2b5be" font-weight="normal" stroke="#b2b5be" stroke-width="0.3" textLength="36.4" lengthAdjust="spacingAndGlyphs">140.000</text><text x="1375" y="307.6" font-size="10.2" fill="#b2b5be" font-weight="normal" stroke="#b2b5be" stroke-width="0.3" textLength="36.4" lengthAdjust="spacingAndGlyphs">138.000</text><text x="1375" y="342.2" font-size="10.2" fill="#b2b5be" font-weight="normal" stroke="#b2b5be" stroke-width="0.3" textLength="36.4" lengthAdjust="spacingAndGlyphs">136.000</text><text x="1375" y="377.3" font-size="10.2" fill="#b2b5be" font-weight="normal" stroke="#b2b5be" stroke-width="0.3" textLength="36.4" lengthAdjust="spacingAndGlyphs">134.000</text><text x="1375" y="404.0" font-size="10.2" fill="#b2b5be" font-weight="normal" stroke="#b2b5be" stroke-width="0.3" textLength="36.4" lengthAdjust="spacingAndGlyphs">132.500</text><text x="1375" y="431.0" font-size="10.2" fill="#b2b5be" font-weight="normal" stroke="#b2b5be" stroke-width="0.3" textLength="36.4" lengthAdjust="spacingAndGlyphs">131.000</text><text x="1375" y="458.3" font-size="10.2" fill="#b2b5be" font-weight="normal" stroke="#b2b5be" stroke-width="0.3" textLength="36.4" lengthAdjust="spacingAndGlyphs">129.500</text><text x="1375" y="485.9" font-size="10.2" fill="#b2b5be" font-weight="normal" stroke="#b2b5be" stroke-width="0.3" textLength="36.4" lengthAdjust="spacingAndGlyphs">128.000</text><text x="1375" y="515.7" font-size="10.2" fill="#b2b5be" font-weight="normal" stroke="#b2b5be" stroke-width="0.3" textLength="36.4" lengthAdjust="spacingAndGlyphs">126.400</text><path d="M1367 67.2H1414.8Q1416.8 67.2 1416.8 69.2V81.0Q1416.8 83.0 1414.8 83.0H1367Z" fill="#ffffff"/><text x="1375.2" y="78.7" font-size="10.2" fill="#131722" font-weight="normal" stroke="#131722" stroke-width="0.3" textLength="35" lengthAdjust="spacingAndGlyphs">152.001</text><path d="M1367 84.0H1414.8Q1416.8 84.0 1416.8 86.0V96.9Q1416.8 98.9 1414.8 98.9H1367Z" fill="#ffffff"/><text x="1375.2" y="95.0" font-size="10.2" fill="#131722" font-weight="normal" stroke="#131722" stroke-width="0.3" textLength="35" lengthAdjust="spacingAndGlyphs">150.850</text><path d="M1367 113.6H1414.8Q1416.8 113.6 1416.8 115.6V126.80000000000001Q1416.8 128.8 1414.8 128.8H1367Z" fill="#ffffff"/><text x="1375.2" y="124.8" font-size="10.2" fill="#131722" font-weight="normal" stroke="#131722" stroke-width="0.3" textLength="35" lengthAdjust="spacingAndGlyphs">150.001</text><rect x="1367" y="99.2" width="49.9" height="14.2" fill="#26a69a"/><text x="1375.2" y="110.0" font-size="10.2" fill="#ffffff" font-weight="normal" stroke="#ffffff" stroke-width="0.3" textLength="35.6" lengthAdjust="spacingAndGlyphs">150.019</text><path d="M1325 98.1H1367V113.9H1325Q1323 113.9 1323 111.9V100.1Q1323 98.1 1325 98.1Z" fill="#26a69a"/><text x="1327.8" y="110.0" font-size="10.2" fill="#ffffff" font-weight="normal" stroke="#ffffff" stroke-width="0.3" textLength="34.9" lengthAdjust="spacingAndGlyphs">USDJPY</text><g clip-path="url(#cr)"><rect x="9" y="569.4" width="1358" height="97.6" fill="#7e57c2" fill-opacity="0.13"/><line x1="9" x2="1367" y1="569.4" y2="569.4" stroke="#9598a1" stroke-dasharray="3 3.5" stroke-opacity="0.6"/><line x1="9" x2="1367" y1="618.2" y2="618.2" stroke="#9598a1" stroke-dasharray="3 3.5" stroke-opacity="0.6"/><line x1="9" x2="1367" y1="667.0" y2="667.0" stroke="#9598a1" stroke-dasharray="3 3.5" stroke-opacity="0.6"/><defs><linearGradient id="gob" x1="0" y1="540.1" x2="0" y2="569.4" gradientUnits="userSpaceOnUse"><stop offset="0" stop-color="#4caf50" stop-opacity="0.45"/><stop offset="1" stop-color="#4caf50" stop-opacity="0.02"/></linearGradient><linearGradient id="gos" x1="0" y1="667.0" x2="0" y2="696.3" gradientUnits="userSpaceOnUse"><stop offset="0" stop-color="#f23645" stop-opacity="0.02"/><stop offset="1" stop-color="#f23645" stop-opacity="0.4"/></linearGradient><clipPath id="cob"><rect x="9" y="540" width="1358" height="29.4"/></clipPath><clipPath id="cos"><rect x="9" y="667.0" width="1358" height="16.0"/></clipPath></defs><polygon points="6.6,598.3 9.8,594.4 12.9,602.8 16.1,592.0 19.2,583.3 22.4,582.4 25.5,580.7 28.7,570.8 31.9,570.8 35.0,568.4 38.2,553.1 41.3,547.9 44.5,546.5 47.6,572.2 50.8,570.7 53.9,559.3 57.1,579.9 60.2,577.8 63.4,586.2 66.5,583.8 69.7,579.7 72.8,577.2 76.0,600.7 79.1,592.3 82.3,580.9 85.4,580.2 88.6,589.0 91.7,587.2 94.9,584.4 98.0,583.5 101.2,595.3 104.3,589.9 107.5,584.6 110.6,582.6 113.8,578.4 116.9,577.4 120.1,566.7 123.2,564.1 126.4,552.8 129.5,550.8 132.7,549.5 135.8,545.0 139.0,543.8 142.1,593.5 145.3,581.4 148.4,594.8 151.6,615.1 154.7,616.3 157.9,602.4 161.0,592.4 164.2,598.9 167.3,602.9 170.5,599.8 173.6,619.9 176.8,619.9 179.9,631.3 183.1,621.1 186.2,663.2 189.4,673.9 192.5,661.0 195.7,664.0 198.8,661.7 202.0,653.8 205.1,651.5 208.3,633.3 211.4,640.0 214.6,650.8 217.7,656.8 220.9,650.1 224.0,652.1 227.2,653.4 230.3,657.6 233.5,673.5 236.6,678.2 239.8,650.5 242.9,647.5 246.1,650.0 249.2,650.0 252.4,650.0 255.6,636.6 258.7,652.4 261.9,653.1 265.0,627.8 268.2,637.1 271.3,633.0 274.5,664.4 277.6,657.7 280.8,658.2 283.9,653.0 287.1,651.9 290.2,645.4 293.4,634.9 296.5,645.6 299.7,657.2 302.8,659.4 306.0,655.9 309.1,639.5 312.3,630.6 315.4,640.3 318.6,641.7 321.7,638.4 324.9,636.1 328.0,658.7 331.2,665.8 334.3,658.8 337.5,661.1 340.6,651.5 343.8,654.8 346.9,640.7 350.1,629.0 353.2,633.2 356.4,641.3 359.5,630.4 362.7,633.0 365.8,627.4 369.0,630.3 372.1,641.3 375.3,643.0 378.4,614.9 381.6,602.6 384.7,617.3 387.9,614.6 391.0,614.6 394.2,614.6 397.3,604.4 400.5,597.0 403.6,589.2 406.8,592.0 409.9,589.3 413.1,588.3 416.2,582.7 419.4,582.7 422.5,586.3 425.7,570.6 428.8,574.3 432.0,574.3 435.1,576.3 438.3,570.4 441.4,586.7 444.6,586.7 447.7,572.8 450.9,571.9 454.0,595.4 457.2,614.3 460.3,635.2 463.5,622.0 466.6,630.9 469.8,626.9 472.9,646.0 476.1,650.3 479.3,634.1 482.4,643.2 485.6,649.2 488.7,650.0 491.9,638.6 495.0,644.3 498.2,619.3 501.3,621.5 504.5,620.3 507.6,623.9 510.8,635.1 513.9,637.3 517.1,629.9 520.2,624.2 523.4,606.3 526.5,605.2 529.7,613.8 532.8,620.7 536.0,606.5 539.1,597.4 542.3,603.5 545.4,596.6 548.6,604.4 551.7,606.0 554.9,603.3 558.0,613.3 561.2,614.9 564.3,610.2 567.5,580.9 570.6,570.7 573.8,585.8 576.9,611.8 580.1,616.6 583.2,610.9 586.4,607.5 589.5,606.3 592.7,618.7 595.8,616.0 599.0,601.3 602.1,596.9 605.3,593.6 608.4,581.5 611.6,572.1 614.7,585.4 617.9,579.2 621.0,579.2 624.2,572.2 627.3,566.7 630.5,562.9 633.6,566.9 636.8,578.6 639.9,587.9 643.1,596.7 646.2,583.6 649.4,590.6 652.5,590.6 655.7,584.9 658.8,604.5 662.0,599.4 665.1,596.8 668.3,589.4 671.4,593.3 674.6,589.4 677.7,572.8 680.9,571.9 684.0,580.5 687.2,576.1 690.3,564.5 693.5,559.6 696.6,564.1 699.8,559.0 702.9,557.3 706.1,553.3 709.3,565.8 712.4,562.0 715.6,567.0 718.7,566.0 721.9,579.1 725.0,618.5 728.2,630.1 731.3,642.6 734.5,660.3 737.6,663.6 740.8,651.4 743.9,652.4 747.1,647.0 750.2,635.1 753.4,628.6 756.5,605.3 759.7,609.6 762.8,618.2 766.0,626.2 769.1,637.1 772.3,613.0 775.4,601.2 778.6,590.9 781.7,592.3 784.9,602.2 788.0,612.7 791.2,604.9 794.3,595.7 797.5,591.8 800.6,582.7 803.8,581.8 806.9,575.7 810.1,575.7 813.2,568.9 816.4,580.0 819.5,587.2 822.7,579.2 825.8,584.7 829.0,603.2 832.1,589.1 835.3,586.2 838.4,585.2 841.6,595.7 844.7,592.2 847.9,604.2 851.0,595.5 854.2,591.9 857.3,579.2 860.5,579.2 863.6,587.1 866.8,581.4 869.9,603.4 873.1,597.1 876.2,592.3 879.4,592.3 882.5,587.2 885.7,593.5 888.8,589.4 892.0,582.8 895.1,599.8 898.3,589.0 901.4,583.0 904.6,580.6 907.7,574.8 910.9,581.8 914.0,580.5 917.2,574.2 920.3,595.2 923.5,593.8 926.6,606.7 929.8,594.3 933.0,610.0 936.1,606.8 939.3,600.5 942.4,590.3 945.6,594.7 948.7,596.9 951.9,592.1 955.0,592.1 958.2,592.1 961.3,590.3 964.5,596.3 967.6,592.1 970.8,586.1 973.9,582.2 977.1,607.0 980.2,619.7 983.4,576.7 986.5,593.6 989.7,601.3 992.8,620.1 996.0,611.0 999.1,605.2 1002.3,598.3 1005.4,591.8 1008.6,590.5 1011.7,587.9 1014.9,613.1 1018.0,599.0 1021.2,610.8 1024.3,626.8 1027.5,642.2 1030.6,640.5 1033.8,623.7 1036.9,622.3 1040.1,625.1 1043.2,634.5 1046.4,648.4 1049.5,651.6 1052.7,634.6 1055.8,649.5 1059.0,643.1 1062.1,643.1 1065.3,641.4 1068.4,670.2 1071.6,657.5 1074.7,639.3 1077.9,646.3 1081.0,664.2 1084.2,669.9 1087.3,665.8 1090.5,657.5 1093.6,644.5 1096.8,646.1 1099.9,657.5 1103.1,653.4 1106.2,654.2 1109.4,652.7 1112.5,658.6 1115.7,661.1 1118.8,664.4 1122.0,664.4 1125.1,646.2 1128.3,626.5 1131.4,610.4 1134.6,610.4 1137.7,615.9 1140.9,613.2 1144.0,597.4 1147.2,603.5 1150.3,609.5 1153.5,598.6 1156.7,584.4 1159.8,575.8 1163.0,575.8 1166.1,577.7 1169.3,577.7 1172.4,574.6 1175.6,592.4 1178.7,591.2 1181.9,584.2 1185.0,596.7 1188.2,595.4 1191.3,609.7 1194.5,618.4 1197.6,592.0 1200.8,588.0 1203.9,599.6 1207.1,596.7 1210.2,584.9 1213.4,586.4 1216.5,585.2 1219.7,570.4 1222.8,575.5 1226.0,587.6 1229.1,584.2 1232.3,586.3 1235.4,589.2 1238.6,588.7 1238.6,569.4 6.6,569.4" fill="url(#gob)" clip-path="url(#cob)"/><polygon points="6.6,598.3 9.8,594.4 12.9,602.8 16.1,592.0 19.2,583.3 22.4,582.4 25.5,580.7 28.7,570.8 31.9,570.8 35.0,568.4 38.2,553.1 41.3,547.9 44.5,546.5 47.6,572.2 50.8,570.7 53.9,559.3 57.1,579.9 60.2,577.8 63.4,586.2 66.5,583.8 69.7,579.7 72.8,577.2 76.0,600.7 79.1,592.3 82.3,580.9 85.4,580.2 88.6,589.0 91.7,587.2 94.9,584.4 98.0,583.5 101.2,595.3 104.3,589.9 107.5,584.6 110.6,582.6 113.8,578.4 116.9,577.4 120.1,566.7 123.2,564.1 126.4,552.8 129.5,550.8 132.7,549.5 135.8,545.0 139.0,543.8 142.1,593.5 145.3,581.4 148.4,594.8 151.6,615.1 154.7,616.3 157.9,602.4 161.0,592.4 164.2,598.9 167.3,602.9 170.5,599.8 173.6,619.9 176.8,619.9 179.9,631.3 183.1,621.1 186.2,663.2 189.4,673.9 192.5,661.0 195.7,664.0 198.8,661.7 202.0,653.8 205.1,651.5 208.3,633.3 211.4,640.0 214.6,650.8 217.7,656.8 220.9,650.1 224.0,652.1 227.2,653.4 230.3,657.6 233.5,673.5 236.6,678.2 239.8,650.5 242.9,647.5 246.1,650.0 249.2,650.0 252.4,650.0 255.6,636.6 258.7,652.4 261.9,653.1 265.0,627.8 268.2,637.1 271.3,633.0 274.5,664.4 277.6,657.7 280.8,658.2 283.9,653.0 287.1,651.9 290.2,645.4 293.4,634.9 296.5,645.6 299.7,657.2 302.8,659.4 306.0,655.9 309.1,639.5 312.3,630.6 315.4,640.3 318.6,641.7 321.7,638.4 324.9,636.1 328.0,658.7 331.2,665.8 334.3,658.8 337.5,661.1 340.6,651.5 343.8,654.8 346.9,640.7 350.1,629.0 353.2,633.2 356.4,641.3 359.5,630.4 362.7,633.0 365.8,627.4 369.0,630.3 372.1,641.3 375.3,643.0 378.4,614.9 381.6,602.6 384.7,617.3 387.9,614.6 391.0,614.6 394.2,614.6 397.3,604.4 400.5,597.0 403.6,589.2 406.8,592.0 409.9,589.3 413.1,588.3 416.2,582.7 419.4,582.7 422.5,586.3 425.7,570.6 428.8,574.3 432.0,574.3 435.1,576.3 438.3,570.4 441.4,586.7 444.6,586.7 447.7,572.8 450.9,571.9 454.0,595.4 457.2,614.3 460.3,635.2 463.5,622.0 466.6,630.9 469.8,626.9 472.9,646.0 476.1,650.3 479.3,634.1 482.4,643.2 485.6,649.2 488.7,650.0 491.9,638.6 495.0,644.3 498.2,619.3 501.3,621.5 504.5,620.3 507.6,623.9 510.8,635.1 513.9,637.3 517.1,629.9 520.2,624.2 523.4,606.3 526.5,605.2 529.7,613.8 532.8,620.7 536.0,606.5 539.1,597.4 542.3,603.5 545.4,596.6 548.6,604.4 551.7,606.0 554.9,603.3 558.0,613.3 561.2,614.9 564.3,610.2 567.5,580.9 570.6,570.7 573.8,585.8 576.9,611.8 580.1,616.6 583.2,610.9 586.4,607.5 589.5,606.3 592.7,618.7 595.8,616.0 599.0,601.3 602.1,596.9 605.3,593.6 608.4,581.5 611.6,572.1 614.7,585.4 617.9,579.2 621.0,579.2 624.2,572.2 627.3,566.7 630.5,562.9 633.6,566.9 636.8,578.6 639.9,587.9 643.1,596.7 646.2,583.6 649.4,590.6 652.5,590.6 655.7,584.9 658.8,604.5 662.0,599.4 665.1,596.8 668.3,589.4 671.4,593.3 674.6,589.4 677.7,572.8 680.9,571.9 684.0,580.5 687.2,576.1 690.3,564.5 693.5,559.6 696.6,564.1 699.8,559.0 702.9,557.3 706.1,553.3 709.3,565.8 712.4,562.0 715.6,567.0 718.7,566.0 721.9,579.1 725.0,618.5 728.2,630.1 731.3,642.6 734.5,660.3 737.6,663.6 740.8,651.4 743.9,652.4 747.1,647.0 750.2,635.1 753.4,628.6 756.5,605.3 759.7,609.6 762.8,618.2 766.0,626.2 769.1,637.1 772.3,613.0 775.4,601.2 778.6,590.9 781.7,592.3 784.9,602.2 788.0,612.7 791.2,604.9 794.3,595.7 797.5,591.8 800.6,582.7 803.8,581.8 806.9,575.7 810.1,575.7 813.2,568.9 816.4,580.0 819.5,587.2 822.7,579.2 825.8,584.7 829.0,603.2 832.1,589.1 835.3,586.2 838.4,585.2 841.6,595.7 844.7,592.2 847.9,604.2 851.0,595.5 854.2,591.9 857.3,579.2 860.5,579.2 863.6,587.1 866.8,581.4 869.9,603.4 873.1,597.1 876.2,592.3 879.4,592.3 882.5,587.2 885.7,593.5 888.8,589.4 892.0,582.8 895.1,599.8 898.3,589.0 901.4,583.0 904.6,580.6 907.7,574.8 910.9,581.8 914.0,580.5 917.2,574.2 920.3,595.2 923.5,593.8 926.6,606.7 929.8,594.3 933.0,610.0 936.1,606.8 939.3,600.5 942.4,590.3 945.6,594.7 948.7,596.9 951.9,592.1 955.0,592.1 958.2,592.1 961.3,590.3 964.5,596.3 967.6,592.1 970.8,586.1 973.9,582.2 977.1,607.0 980.2,619.7 983.4,576.7 986.5,593.6 989.7,601.3 992.8,620.1 996.0,611.0 999.1,605.2 1002.3,598.3 1005.4,591.8 1008.6,590.5 1011.7,587.9 1014.9,613.1 1018.0,599.0 1021.2,610.8 1024.3,626.8 1027.5,642.2 1030.6,640.5 1033.8,623.7 1036.9,622.3 1040.1,625.1 1043.2,634.5 1046.4,648.4 1049.5,651.6 1052.7,634.6 1055.8,649.5 1059.0,643.1 1062.1,643.1 1065.3,641.4 1068.4,670.2 1071.6,657.5 1074.7,639.3 1077.9,646.3 1081.0,664.2 1084.2,669.9 1087.3,665.8 1090.5,657.5 1093.6,644.5 1096.8,646.1 1099.9,657.5 1103.1,653.4 1106.2,654.2 1109.4,652.7 1112.5,658.6 1115.7,661.1 1118.8,664.4 1122.0,664.4 1125.1,646.2 1128.3,626.5 1131.4,610.4 1134.6,610.4 1137.7,615.9 1140.9,613.2 1144.0,597.4 1147.2,603.5 1150.3,609.5 1153.5,598.6 1156.7,584.4 1159.8,575.8 1163.0,575.8 1166.1,577.7 1169.3,577.7 1172.4,574.6 1175.6,592.4 1178.7,591.2 1181.9,584.2 1185.0,596.7 1188.2,595.4 1191.3,609.7 1194.5,618.4 1197.6,592.0 1200.8,588.0 1203.9,599.6 1207.1,596.7 1210.2,584.9 1213.4,586.4 1216.5,585.2 1219.7,570.4 1222.8,575.5 1226.0,587.6 1229.1,584.2 1232.3,586.3 1235.4,589.2 1238.6,588.7 1238.6,667.0 6.6,667.0" fill="url(#gos)" clip-path="url(#cos)"/><polyline points="6.6,598.3 9.8,594.4 12.9,602.8 16.1,592.0 19.2,583.3 22.4,582.4 25.5,580.7 28.7,570.8 31.9,570.8 35.0,568.4 38.2,553.1 41.3,547.9 44.5,546.5 47.6,572.2 50.8,570.7 53.9,559.3 57.1,579.9 60.2,577.8 63.4,586.2 66.5,583.8 69.7,579.7 72.8,577.2 76.0,600.7 79.1,592.3 82.3,580.9 85.4,580.2 88.6,589.0 91.7,587.2 94.9,584.4 98.0,583.5 101.2,595.3 104.3,589.9 107.5,584.6 110.6,582.6 113.8,578.4 116.9,577.4 120.1,566.7 123.2,564.1 126.4,552.8 129.5,550.8 132.7,549.5 135.8,545.0 139.0,543.8 142.1,593.5 145.3,581.4 148.4,594.8 151.6,615.1 154.7,616.3 157.9,602.4 161.0,592.4 164.2,598.9 167.3,602.9 170.5,599.8 173.6,619.9 176.8,619.9 179.9,631.3 183.1,621.1 186.2,663.2 189.4,673.9 192.5,661.0 195.7,664.0 198.8,661.7 202.0,653.8 205.1,651.5 208.3,633.3 211.4,640.0 214.6,650.8 217.7,656.8 220.9,650.1 224.0,652.1 227.2,653.4 230.3,657.6 233.5,673.5 236.6,678.2 239.8,650.5 242.9,647.5 246.1,650.0 249.2,650.0 252.4,650.0 255.6,636.6 258.7,652.4 261.9,653.1 265.0,627.8 268.2,637.1 271.3,633.0 274.5,664.4 277.6,657.7 280.8,658.2 283.9,653.0 287.1,651.9 290.2,645.4 293.4,634.9 296.5,645.6 299.7,657.2 302.8,659.4 306.0,655.9 309.1,639.5 312.3,630.6 315.4,640.3 318.6,641.7 321.7,638.4 324.9,636.1 328.0,658.7 331.2,665.8 334.3,658.8 337.5,661.1 340.6,651.5 343.8,654.8 346.9,640.7 350.1,629.0 353.2,633.2 356.4,641.3 359.5,630.4 362.7,633.0 365.8,627.4 369.0,630.3 372.1,641.3 375.3,643.0 378.4,614.9 381.6,602.6 384.7,617.3 387.9,614.6 391.0,614.6 394.2,614.6 397.3,604.4 400.5,597.0 403.6,589.2 406.8,592.0 409.9,589.3 413.1,588.3 416.2,582.7 419.4,582.7 422.5,586.3 425.7,570.6 428.8,574.3 432.0,574.3 435.1,576.3 438.3,570.4 441.4,586.7 444.6,586.7 447.7,572.8 450.9,571.9 454.0,595.4 457.2,614.3 460.3,635.2 463.5,622.0 466.6,630.9 469.8,626.9 472.9,646.0 476.1,650.3 479.3,634.1 482.4,643.2 485.6,649.2 488.7,650.0 491.9,638.6 495.0,644.3 498.2,619.3 501.3,621.5 504.5,620.3 507.6,623.9 510.8,635.1 513.9,637.3 517.1,629.9 520.2,624.2 523.4,606.3 526.5,605.2 529.7,613.8 532.8,620.7 536.0,606.5 539.1,597.4 542.3,603.5 545.4,596.6 548.6,604.4 551.7,606.0 554.9,603.3 558.0,613.3 561.2,614.9 564.3,610.2 567.5,580.9 570.6,570.7 573.8,585.8 576.9,611.8 580.1,616.6 583.2,610.9 586.4,607.5 589.5,606.3 592.7,618.7 595.8,616.0 599.0,601.3 602.1,596.9 605.3,593.6 608.4,581.5 611.6,572.1 614.7,585.4 617.9,579.2 621.0,579.2 624.2,572.2 627.3,566.7 630.5,562.9 633.6,566.9 636.8,578.6 639.9,587.9 643.1,596.7 646.2,583.6 649.4,590.6 652.5,590.6 655.7,584.9 658.8,604.5 662.0,599.4 665.1,596.8 668.3,589.4 671.4,593.3 674.6,589.4 677.7,572.8 680.9,571.9 684.0,580.5 687.2,576.1 690.3,564.5 693.5,559.6 696.6,564.1 699.8,559.0 702.9,557.3 706.1,553.3 709.3,565.8 712.4,562.0 715.6,567.0 718.7,566.0 721.9,579.1 725.0,618.5 728.2,630.1 731.3,642.6 734.5,660.3 737.6,663.6 740.8,651.4 743.9,652.4 747.1,647.0 750.2,635.1 753.4,628.6 756.5,605.3 759.7,609.6 762.8,618.2 766.0,626.2 769.1,637.1 772.3,613.0 775.4,601.2 778.6,590.9 781.7,592.3 784.9,602.2 788.0,612.7 791.2,604.9 794.3,595.7 797.5,591.8 800.6,582.7 803.8,581.8 806.9,575.7 810.1,575.7 813.2,568.9 816.4,580.0 819.5,587.2 822.7,579.2 825.8,584.7 829.0,603.2 832.1,589.1 835.3,586.2 838.4,585.2 841.6,595.7 844.7,592.2 847.9,604.2 851.0,595.5 854.2,591.9 857.3,579.2 860.5,579.2 863.6,587.1 866.8,581.4 869.9,603.4 873.1,597.1 876.2,592.3 879.4,592.3 882.5,587.2 885.7,593.5 888.8,589.4 892.0,582.8 895.1,599.8 898.3,589.0 901.4,583.0 904.6,580.6 907.7,574.8 910.9,581.8 914.0,580.5 917.2,574.2 920.3,595.2 923.5,593.8 926.6,606.7 929.8,594.3 933.0,610.0 936.1,606.8 939.3,600.5 942.4,590.3 945.6,594.7 948.7,596.9 951.9,592.1 955.0,592.1 958.2,592.1 961.3,590.3 964.5,596.3 967.6,592.1 970.8,586.1 973.9,582.2 977.1,607.0 980.2,619.7 983.4,576.7 986.5,593.6 989.7,601.3 992.8,620.1 996.0,611.0 999.1,605.2 1002.3,598.3 1005.4,591.8 1008.6,590.5 1011.7,587.9 1014.9,613.1 1018.0,599.0 1021.2,610.8 1024.3,626.8 1027.5,642.2 1030.6,640.5 1033.8,623.7 1036.9,622.3 1040.1,625.1 1043.2,634.5 1046.4,648.4 1049.5,651.6 1052.7,634.6 1055.8,649.5 1059.0,643.1 1062.1,643.1 1065.3,641.4 1068.4,670.2 1071.6,657.5 1074.7,639.3 1077.9,646.3 1081.0,664.2 1084.2,669.9 1087.3,665.8 1090.5,657.5 1093.6,644.5 1096.8,646.1 1099.9,657.5 1103.1,653.4 1106.2,654.2 1109.4,652.7 1112.5,658.6 1115.7,661.1 1118.8,664.4 1122.0,664.4 1125.1,646.2 1128.3,626.5 1131.4,610.4 1134.6,610.4 1137.7,615.9 1140.9,613.2 1144.0,597.4 1147.2,603.5 1150.3,609.5 1153.5,598.6 1156.7,584.4 1159.8,575.8 1163.0,575.8 1166.1,577.7 1169.3,577.7 1172.4,574.6 1175.6,592.4 1178.7,591.2 1181.9,584.2 1185.0,596.7 1188.2,595.4 1191.3,609.7 1194.5,618.4 1197.6,592.0 1200.8,588.0 1203.9,599.6 1207.1,596.7 1210.2,584.9 1213.4,586.4 1216.5,585.2 1219.7,570.4 1222.8,575.5 1226.0,587.6 1229.1,584.2 1232.3,586.3 1235.4,589.2 1238.6,588.7" fill="none" stroke="#7e57c2" stroke-width="1" stroke-opacity="1" stroke-linejoin="round"/><polyline points="6.6,618.3 9.8,615.0 12.9,613.8 16.1,611.9 19.2,609.5 22.4,605.4 25.5,601.4 28.7,597.1 31.9,592.6 35.0,588.8 38.2,584.5 41.3,580.5 44.5,577.2 47.6,576.0 50.8,574.0 53.9,571.5 57.1,569.9 60.2,568.8 63.4,569.1 66.5,569.2 69.7,569.1 72.8,569.5 76.0,571.7 79.1,573.4 82.3,575.4 85.4,577.7 88.6,580.7 91.7,581.8 94.9,582.8 98.0,584.5 101.2,585.6 104.3,586.4 107.5,586.3 110.6,586.2 113.8,586.2 116.9,586.2 120.1,583.7 123.2,581.7 126.4,579.7 129.5,577.6 132.7,574.8 135.8,571.8 139.0,568.9 142.1,569.6 145.3,568.6 148.4,568.9 151.6,571.1 154.7,573.5 157.9,575.2 161.0,576.3 164.2,578.6 167.3,581.4 170.5,584.7 173.6,589.7 176.8,594.7 179.9,600.9 183.1,606.4 186.2,611.4 189.4,618.0 192.5,622.7 195.7,626.2 198.8,629.5 202.0,633.1 205.1,637.4 208.3,639.8 211.4,642.5 214.6,646.1 217.7,648.7 220.9,650.9 224.0,652.4 227.2,654.7 230.3,654.3 233.5,654.3 236.6,655.5 239.8,654.5 242.9,653.5 246.1,653.2 249.2,653.1 252.4,654.3 255.6,654.1 258.7,654.2 261.9,653.9 265.0,652.3 268.2,651.3 271.3,649.8 274.5,650.3 277.6,649.2 280.8,647.7 283.9,647.9 287.1,648.2 290.2,647.9 293.4,646.8 296.5,646.5 299.7,648.0 302.8,648.5 306.0,648.7 309.1,649.5 312.3,649.0 315.4,649.6 318.6,647.9 321.7,646.6 324.9,645.0 328.0,645.4 331.2,646.4 334.3,647.3 337.5,649.2 340.6,649.6 343.8,649.5 346.9,648.1 350.1,646.2 353.2,645.8 356.4,646.5 359.5,645.8 362.7,645.2 365.8,644.4 369.0,644.0 372.1,642.8 375.3,641.1 378.4,638.0 381.6,633.8 384.7,631.4 387.9,628.5 391.0,626.6 394.2,625.6 397.3,623.5 400.5,620.4 403.6,617.4 406.8,614.5 409.9,611.8 413.1,608.8 416.2,604.6 419.4,600.3 422.5,598.2 425.7,596.0 428.8,592.9 432.0,590.0 435.1,587.3 438.3,584.1 441.4,582.9 444.6,582.1 447.7,581.0 450.9,579.5 454.0,580.0 457.2,581.8 460.3,585.6 463.5,588.4 466.6,591.6 469.8,595.6 472.9,600.7 476.1,606.1 479.3,610.3 482.4,615.5 485.6,619.9 488.7,624.4 491.9,629.1 495.0,634.3 498.2,636.0 501.3,636.5 504.5,635.5 507.6,635.6 510.8,635.9 513.9,636.6 517.1,635.5 520.2,633.6 523.4,631.6 526.5,628.9 529.7,626.4 532.8,624.3 536.0,622.0 539.1,618.7 542.3,617.5 545.4,615.8 548.6,614.6 551.7,613.3 554.9,611.1 558.0,609.4 561.2,608.3 564.3,607.3 567.5,605.5 570.6,603.0 573.8,601.0 576.9,600.4 580.1,601.1 583.2,602.1 586.4,602.3 589.5,603.0 592.7,604.1 595.8,604.8 599.0,604.6 602.1,603.5 605.3,601.9 608.4,599.9 611.6,599.3 614.7,600.3 617.9,599.8 621.0,597.5 624.2,594.3 627.3,591.2 630.5,588.0 633.6,585.2 636.8,582.3 639.9,580.3 643.1,580.0 646.2,579.0 649.4,578.8 652.5,579.5 655.7,580.4 658.8,581.8 662.0,583.2 665.1,584.5 668.3,585.7 671.4,587.6 674.6,589.5 677.7,589.9 680.9,589.4 684.0,588.9 687.2,587.4 690.3,586.0 693.5,583.8 696.6,581.9 699.8,580.1 702.9,576.7 706.1,573.4 709.3,571.2 712.4,569.3 715.6,567.4 718.7,565.7 721.9,566.2 725.0,569.5 728.2,573.0 731.3,577.8 734.5,584.6 737.6,592.0 740.8,598.3 743.9,605.0 747.1,611.4 750.2,617.2 753.4,621.7 756.5,624.8 759.7,627.8 762.8,631.6 766.0,634.9 769.1,636.2 772.3,635.0 775.4,632.1 778.6,627.1 781.7,622.0 784.9,618.5 788.0,615.7 791.2,612.6 794.3,609.8 797.5,607.2 800.6,605.6 803.8,603.6 806.9,600.6 810.1,597.0 813.2,592.1 816.4,589.8 819.5,588.8 822.7,587.9 825.8,587.4 829.0,587.4 832.1,585.8 835.3,584.4 838.4,583.7 841.6,584.0 844.7,584.6 847.9,586.2 851.0,587.6 854.2,588.8 857.3,589.5 860.5,589.5 863.6,589.5 866.8,589.6 869.9,591.0 873.1,590.5 876.2,590.7 879.4,591.2 882.5,591.3 885.7,591.2 888.8,591.0 892.0,589.4 895.1,589.8 898.3,589.5 901.4,589.8 904.6,589.9 907.7,589.0 910.9,589.1 914.0,587.4 917.2,585.8 920.3,586.0 923.5,586.1 926.6,587.5 929.8,587.6 933.0,589.0 936.1,590.7 939.3,590.8 942.4,590.9 945.6,591.7 948.7,592.9 951.9,594.1 955.0,594.9 958.2,595.7 961.3,596.8 964.5,596.9 967.6,596.8 970.8,595.3 973.9,594.5 977.1,594.2 980.2,595.2 983.4,593.5 986.5,593.7 989.7,594.2 992.8,595.8 996.0,597.2 999.1,598.1 1002.3,598.6 1005.4,598.7 1008.6,598.3 1011.7,598.0 1014.9,599.9 1018.0,601.1 1021.2,601.4 1024.3,601.9 1027.5,606.5 1030.6,609.9 1033.8,611.5 1036.9,611.6 1040.1,612.7 1043.2,614.7 1046.4,618.3 1049.5,622.6 1052.7,625.7 1055.8,630.1 1059.0,632.3 1062.1,635.4 1065.3,637.6 1068.4,640.7 1071.6,641.8 1074.7,641.7 1077.9,643.4 1081.0,646.4 1084.2,649.6 1087.3,651.8 1090.5,652.4 1093.6,651.9 1096.8,652.7 1099.9,653.3 1103.1,654.1 1106.2,654.8 1109.4,655.7 1112.5,654.8 1115.7,655.1 1118.8,656.9 1122.0,658.2 1125.1,656.9 1128.3,653.8 1131.4,649.8 1134.6,646.5 1137.7,644.4 1140.9,642.1 1144.0,637.8 1147.2,634.2 1150.3,631.0 1153.5,627.1 1156.7,621.8 1159.8,615.8 1163.0,609.4 1166.1,603.2 1169.3,598.3 1172.4,594.6 1175.6,593.3 1178.7,592.0 1181.9,589.7 1185.0,588.5 1188.2,588.4 1191.3,588.8 1194.5,589.5 1197.6,589.0 1200.8,589.2 1203.9,590.9 1207.1,592.4 1210.2,593.0 1213.4,593.6 1216.5,594.3 1219.7,592.8 1222.8,591.7 1226.0,591.9 1229.1,591.0 1232.3,590.4 1235.4,588.9 1238.6,586.8" fill="none" stroke="#e8d635" stroke-width="1" stroke-opacity="1" stroke-linejoin="round"/></g><text x="1374.9" y="548.7" font-size="10.2" fill="#b2b5be" font-weight="normal" stroke="#b2b5be" stroke-width="0.3" textLength="25.2" lengthAdjust="spacingAndGlyphs">80.00</text><text x="1374.9" y="597.2" font-size="10.2" fill="#b2b5be" font-weight="normal" stroke="#b2b5be" stroke-width="0.3" textLength="25.2" lengthAdjust="spacingAndGlyphs">60.00</text><text x="1374.9" y="646.6" font-size="10.2" fill="#b2b5be" font-weight="normal" stroke="#b2b5be" stroke-width="0.3" textLength="25.2" lengthAdjust="spacingAndGlyphs">40.00</text><text x="20.2" y="699.5" font-size="11" fill="#b2b5be" font-weight="normal" stroke="#b2b5be" stroke-width="0.3" textLength="17" lengthAdjust="spacingAndGlyphs">Sep</text><text x="155.3" y="699.5" font-size="11" fill="#b2b5be" font-weight="normal" stroke="#b2b5be" stroke-width="0.3" textLength="17.4" lengthAdjust="spacingAndGlyphs">Nov</text><text x="290.4" y="699.5" font-size="11" fill="#b2b5be" font-weight="normal" stroke="#b2b5be" stroke-width="0.3" textLength="24" lengthAdjust="spacingAndGlyphs">2023</text><text x="426.2" y="699.5" font-size="11" fill="#b2b5be" font-weight="normal" stroke="#b2b5be" stroke-width="0.3" textLength="17.4" lengthAdjust="spacingAndGlyphs">Mar</text><text x="499.3" y="699.5" font-size="11" fill="#b2b5be" font-weight="normal" stroke="#b2b5be" stroke-width="0.3" textLength="16.4" lengthAdjust="spacingAndGlyphs">Apr</text><text x="634.6" y="699.5" font-size="11" fill="#b2b5be" font-weight="normal" stroke="#b2b5be" stroke-width="0.3" textLength="16.8" lengthAdjust="spacingAndGlyphs">Jun</text><text x="769.4" y="699.5" font-size="11" fill="#b2b5be" font-weight="normal" stroke="#b2b5be" stroke-width="0.3" textLength="17.2" lengthAdjust="spacingAndGlyphs">Aug</text><text x="842.7" y="699.5" font-size="11" fill="#b2b5be" font-weight="normal" stroke="#b2b5be" stroke-width="0.3" textLength="16.6" lengthAdjust="spacingAndGlyphs">Sep</text><text x="977.2" y="699.5" font-size="11" fill="#b2b5be" font-weight="normal" stroke="#b2b5be" stroke-width="0.3" textLength="17.6" lengthAdjust="spacingAndGlyphs">Nov</text><text x="1109.8" y="699.5" font-size="11" fill="#b2b5be" font-weight="normal" stroke="#b2b5be" stroke-width="0.3" textLength="24.4" lengthAdjust="spacingAndGlyphs">2024</text><text x="1186.1" y="699.5" font-size="11" fill="#b2b5be" font-weight="normal" stroke="#b2b5be" stroke-width="0.3" textLength="15.8" lengthAdjust="spacingAndGlyphs">Feb</text><text x="1318.8" y="699.5" font-size="11" fill="#b2b5be" font-weight="normal" stroke="#b2b5be" stroke-width="0.3" textLength="15.6" lengthAdjust="spacingAndGlyphs">Apr</text><g transform="translate(1238.5 527.8)"><circle r="8.3" fill="none" stroke="#b04fcc" stroke-width="1.3"/><polyline points="2.1,-4.1 -3.4,0.6 3.4,-0.5 -2.3,4.6" fill="none" stroke="#b04fcc" stroke-width="1.2" stroke-linejoin="miter"/><circle cx="6.2" cy="-6.2" r="3.2" fill="#161a25"/><circle cx="6.2" cy="-6.2" r="2.3" fill="#f0504a"/></g><g transform="translate(9.1 716.45) scale(0.464)" fill="#d1d4dc"><path d="M14 22H7V11H0V4h14v18zM28 22h-8l7.5-18h8L28 22z"/><circle cx="20" cy="8" r="4"/></g><text x="29.2" y="727.4" font-size="11.5" fill="#d1d4dc" font-weight="normal" stroke="#d1d4dc" stroke-width="0.3" textLength="61.8" lengthAdjust="spacingAndGlyphs">TradingView</text><g transform="translate(1180.6 695) skewX(-13) scale(1.02 1) translate(-1180.6 -695)" font-family="'Liberation Sans','Noto Sans CJK SC',sans-serif" font-weight="900" font-size="58" letter-spacing="1"><text x="1182.6" y="697" fill="#000" fill-opacity="0.55">海马财经</text><text x="1180.6" y="695" fill="#eef0f8" fill-opacity="0.58">海马财经</text></g><g font-family="'Liberation Sans',sans-serif" font-weight="bold" font-style="italic" font-size="31"><text transform="translate(1192.3 734.6) scale(1.17 1)" fill="#0b1230" fill-opacity="0.8">z</text><text transform="translate(1193.8 733.1) scale(1.17 1)" fill="#1f40aa" stroke="#1f40aa" stroke-width="0.7">z</text><text transform="translate(1218.5 734.6) scale(1.17 1)" fill="#0b1230" fill-opacity="0.8">z</text><text transform="translate(1220.0 733.1) scale(1.17 1)" fill="#1f40aa" stroke="#1f40aa" stroke-width="0.7">z</text><text transform="translate(1247.2 734.6) scale(1.17 1)" fill="#0b1230" fill-opacity="0.8">r</text><text transform="translate(1248.7 733.1) scale(1.17 1)" fill="#1f40aa" stroke="#1f40aa" stroke-width="0.7">r</text><text transform="translate(1271.5 734.6) scale(1.17 1)" fill="#0b1230" fill-opacity="0.8">t</text><text transform="translate(1273.0 733.1) scale(1.17 1)" fill="#1f40aa" stroke="#1f40aa" stroke-width="0.7">t</text><text transform="translate(1290.7 734.6) scale(1.17 1)" fill="#0b1230" fill-opacity="0.8">0</text><text transform="translate(1292.2 733.1) scale(1.17 1)" fill="#1f40aa" stroke="#1f40aa" stroke-width="0.7">0</text><text transform="translate(1325.5 734.6) scale(1.17 1)" fill="#0b1230" fill-opacity="0.8">1</text><text transform="translate(1327.0 733.1) scale(1.17 1)" fill="#1f40aa" stroke="#1f40aa" stroke-width="0.7">1</text><text transform="translate(1349.1 734.6) scale(1.17 1)" fill="#0b1230" fill-opacity="0.8">.</text><text transform="translate(1350.6 733.1) scale(1.17 1)" fill="#1f40aa" stroke="#1f40aa" stroke-width="0.7">.</text><text transform="translate(1369.1 734.6) scale(1.17 1)" fill="#0b1230" fill-opacity="0.8">c</text><text transform="translate(1370.6 733.1) scale(1.17 1)" fill="#1f40aa" stroke="#1f40aa" stroke-width="0.7">c</text><text transform="translate(1393.5 734.6) scale(1.17 1)" fill="#0b1230" fill-opacity="0.8">n</text><text transform="translate(1395.0 733.1) scale(1.17 1)" fill="#1f40aa" stroke="#1f40aa" stroke-width="0.7">n</text></g></svg>

</body></html>
